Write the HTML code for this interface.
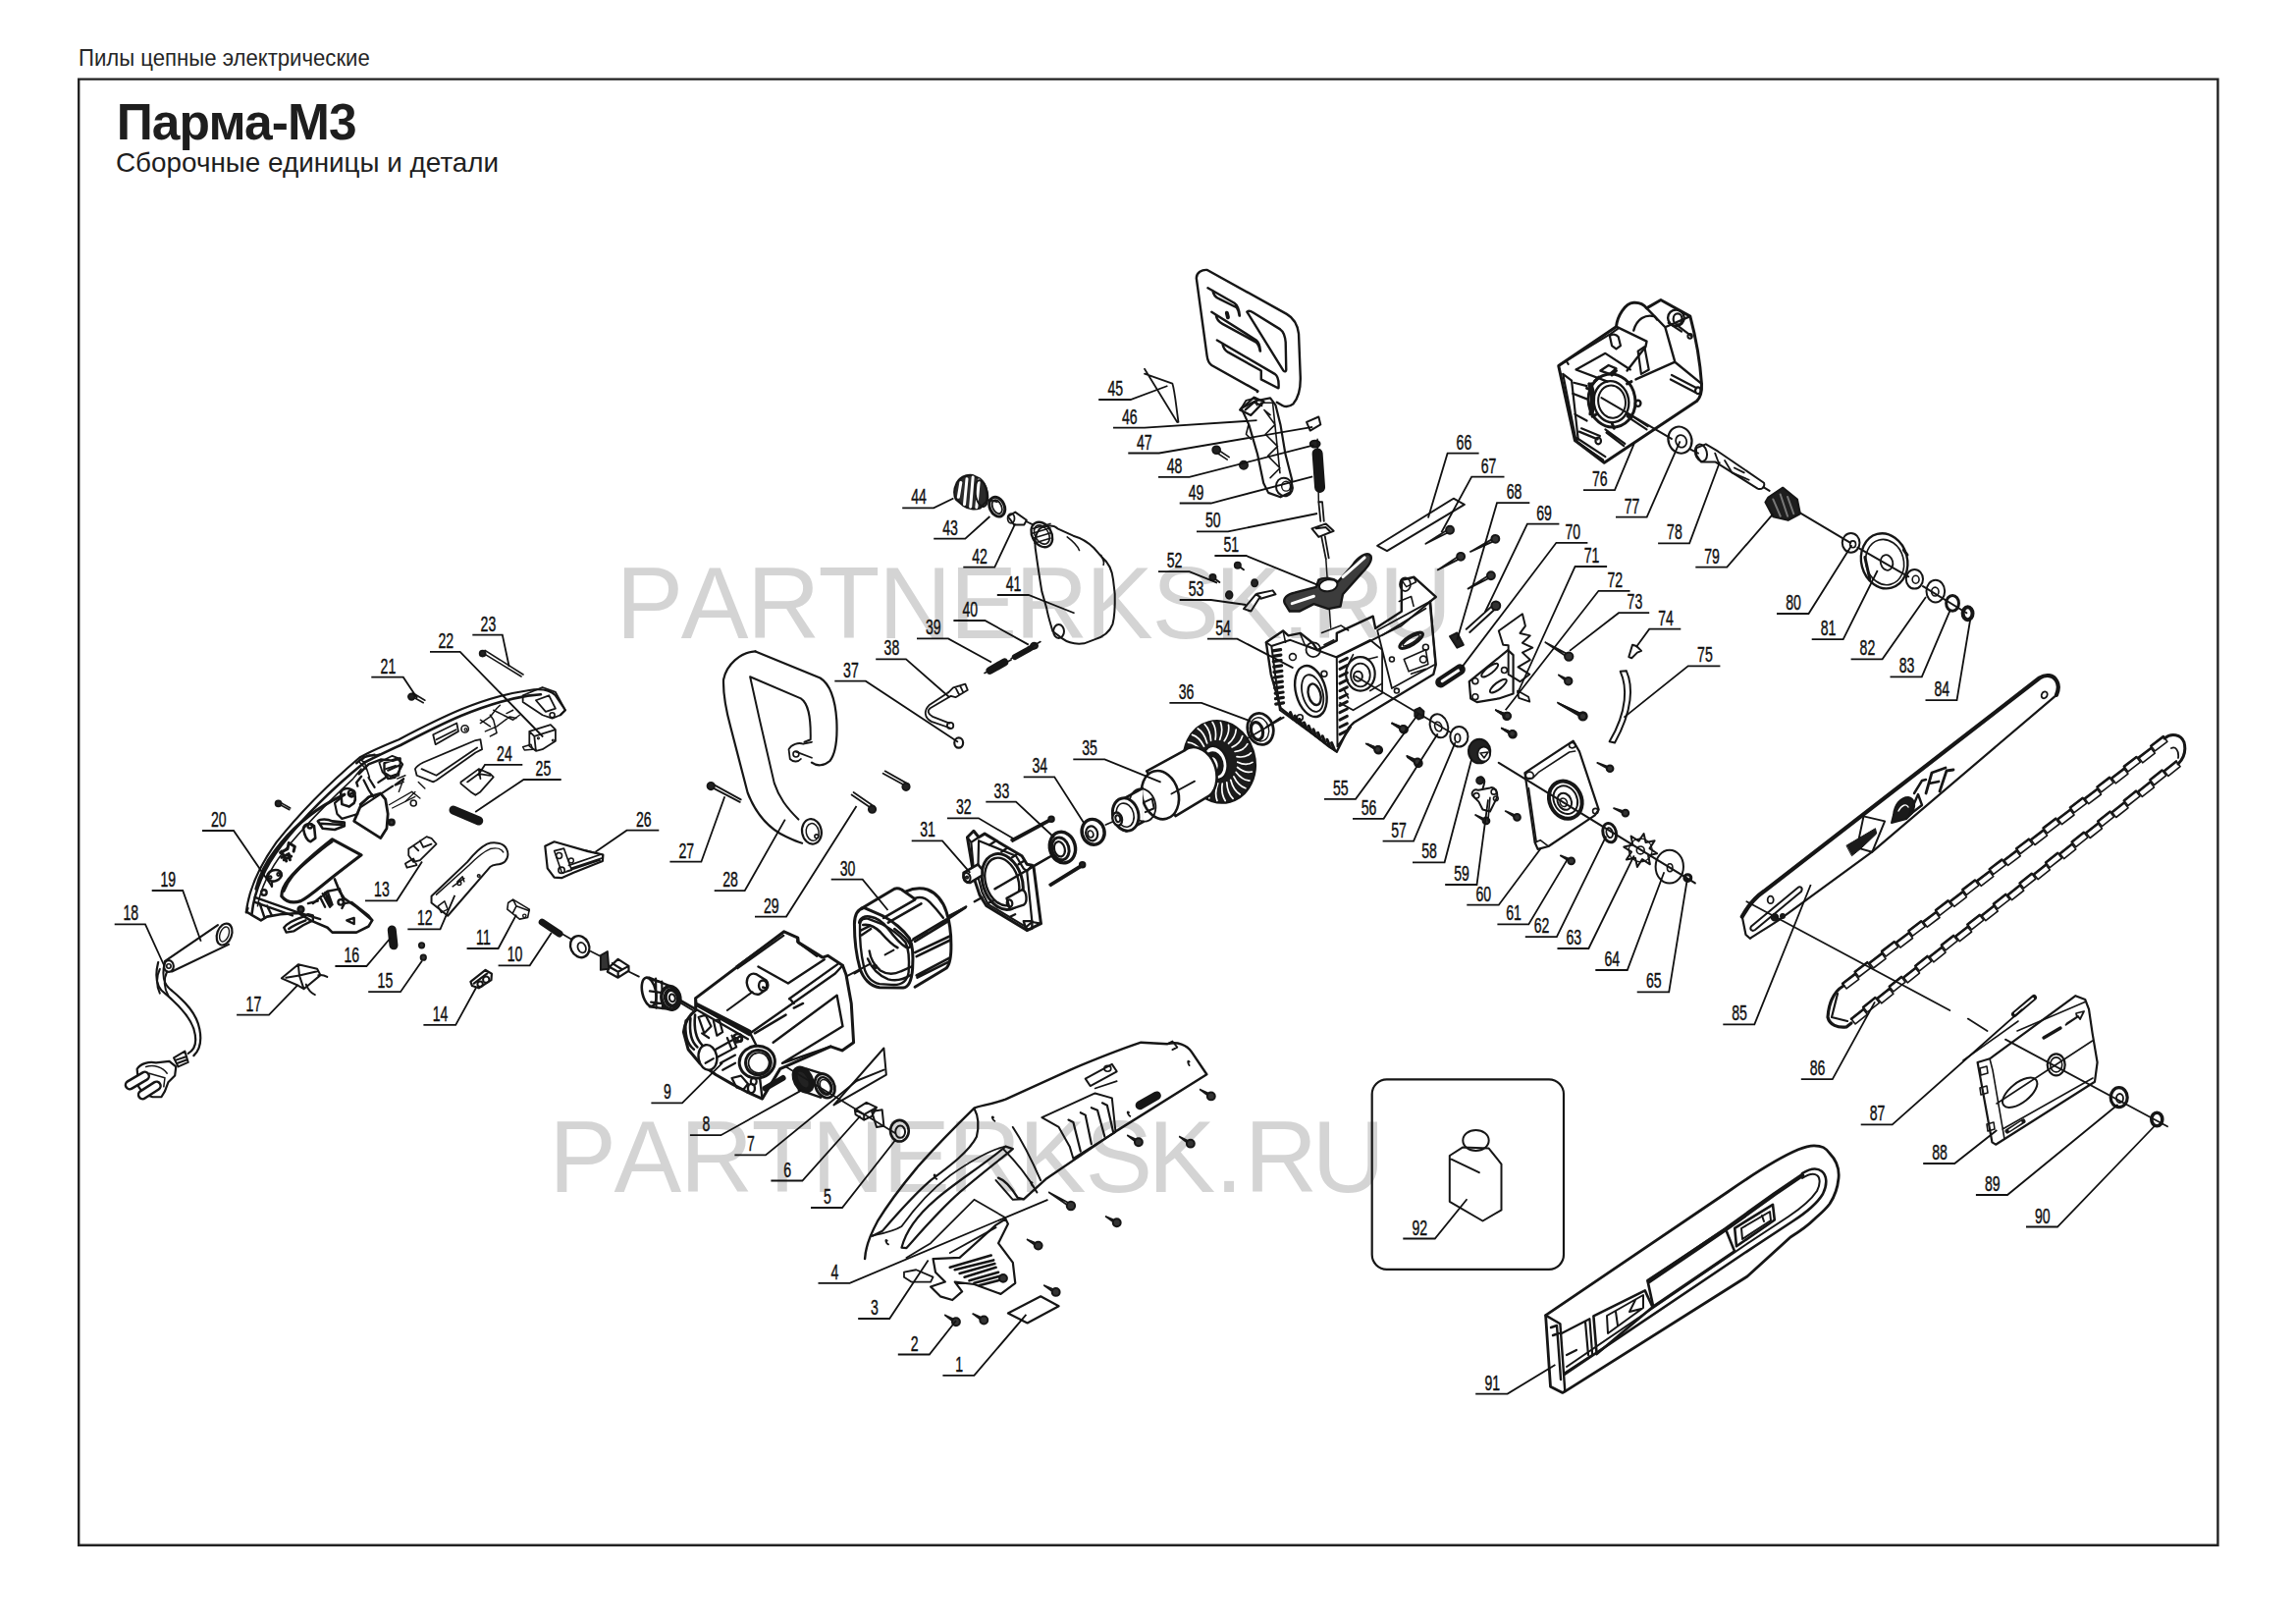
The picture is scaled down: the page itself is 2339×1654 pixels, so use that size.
<!DOCTYPE html>
<html><head><meta charset="utf-8"><style>
html,body{margin:0;padding:0;background:#fff;}
body{width:2339px;height:1654px;overflow:hidden;position:relative;font-family:"Liberation Sans",sans-serif;}
.hdr{position:absolute;left:79.5px;top:47.3px;font-size:24.5px;color:#262626;white-space:nowrap;line-height:1;transform:scaleX(0.904);transform-origin:0 0;}
.frame{position:absolute;left:79px;top:79px;width:2177.5px;height:1491.5px;border:2.4px solid #232323;}
.title{position:absolute;left:118.7px;top:99.2px;font-size:51.5px;font-weight:bold;color:#1e1e1e;white-space:nowrap;line-height:1;letter-spacing:-0.9px;}
.sub{position:absolute;left:117.9px;top:152px;font-size:27.3px;color:#1e1e1e;white-space:nowrap;line-height:1;transform:scaleX(1.02);transform-origin:0 0;}
svg{position:absolute;left:0;top:0;}
svg path,svg ellipse,svg circle,svg rect,svg line,svg polyline,svg polygon{vector-effect:non-scaling-stroke;}
</style></head><body>
<div class="hdr">Пилы цепные электрические</div>
<div class="title">Парма-М3</div>
<div class="sub">Сборочные единицы и детали</div>
<svg width="2339" height="1654" viewBox="0 0 2339 1654" xmlns="http://www.w3.org/2000/svg">
<g font-family="Liberation Sans" font-size="103" fill="#d4d4d4">
<text x="627.4 693.8 761 833.6 894.9 967.5 1034 1106 1173.6 1237.6 1306 1336 1404.8" y="649.5">PARTNERKSK.RU</text>
<text x="559.2 625.6 692.8 765.4 826.7 899.3 965.8 1037.8 1105.4 1169.4 1237.8 1267.8 1336.6" y="1213.5">PARTNERKSK.RU</text>
</g>
<g fill="none" stroke="#161616" stroke-width="1.8" stroke-linejoin="round" stroke-linecap="round">
<g transform="translate(240,690) scale(0.166279)"><path d="M65,1440 C80,1300 150,1150 250,1010 C400,820 560,660 760,490 C850,440 900,420 1000,380 C1250,250 1500,120 1800,78 C1880,65 1930,80 1960,110 L2020,200 L1990,230" stroke-width="2.2"/><path d="M100,1445 C115,1310 180,1160 280,1030 C420,850 580,690 790,520 C880,475 920,455 1010,415 C1250,290 1500,160 1790,112 L1870,104" stroke-width="2.6"/><path d="M135,1400 C150,1300 210,1170 300,1060 C430,900 560,770 720,620 L770,560 M760,500 L790,520 L820,610" stroke-width="1.6"/><path d="M1100,560 C1110,540 1130,530 1150,520 L1470,385 L1500,380 L1510,440 L1470,460 L1230,630 L1210,640 L1110,600 Z M1140,560 L1230,600 L1480,430" stroke-width="1.8"/><path d="M1210,350 L1355,280 L1365,330 L1225,410 Z M1230,380 L1350,320" stroke-width="1.8"/><ellipse cx="1405" cy="315" rx="22" ry="22" stroke-width="1.6"/><ellipse cx="1410" cy="318" rx="8" ry="8" stroke-width="1.2"/><path d="M1500,280 L1560,240 L1600,190 L1620,170 M1530,330 L1600,300 L1680,240 L1720,250 M1500,260 L1560,300 M1560,230 L1580,260 L1600,340 L1560,360 M1640,230 L1700,260 L1740,230 M1580,200 L1660,240 M1660,220 L1700,200" stroke-width="1.5"/><path d="M1760,110 L1880,60 L1960,90 L2020,200 L1990,230 L1940,250 L1880,230 L1760,150 Z M1840,140 L1920,110 L1960,190 L1900,210 Z" stroke-width="1.8"/><ellipse cx="1940" cy="230" rx="15" ry="15" stroke-width="1.6"/><path d="M880,520 L960,480 L1010,500 L1000,600 L940,620 L900,580 Z M920,560 L980,540" stroke-width="1.8"/><path d="M780,500 C800,480 820,470 840,480 L880,470 M760,520 L800,560" stroke-width="1.6"/><path d="M990,620 L1040,600 M980,660 L1030,640 M1030,620 L1000,700" stroke-width="1.4"/><path d="M1080,700 L1130,740 M1040,760 L1100,700 M1120,640 L1160,680" stroke-width="1.4"/><ellipse cx="1090" cy="770" rx="18" ry="18" stroke-width="1.6"/><path d="M940,780 L1080,700 M960,800 L1100,730" stroke-width="1.2"/><path d="M1070,110 L1150,155 M1085,95 L1160,140" stroke-width="1.6"/><ellipse cx="1078" cy="118" rx="20" ry="20" stroke-width="1.8" fill="#222"/><path d="M255,770 L330,810 M265,760 L335,800" stroke-width="1.6"/><ellipse cx="262" cy="772" rx="18" ry="18" stroke-width="1.8" fill="#222"/><path d="M1800,330 L1930,290 L1960,320 L1960,390 L1880,440 L1840,450 L1800,420 Z M1800,330 L1830,360 L1960,320 M1830,360 L1840,450" stroke-width="1.8"/><path d="M1760,425 L1810,410 L1820,440 L1770,445 Z" stroke-width="1.5"/><ellipse cx="1855" cy="372" rx="6" ry="6" stroke-width="1.2"/><ellipse cx="1945" cy="385" rx="6" ry="6" stroke-width="1.2"/><path d="M1380,640 L1490,560 L1560,590 L1580,610 L1500,700 L1470,720 L1440,700 L1380,650 Z M1420,640 L1490,590 L1560,600 M1490,560 L1500,620" stroke-width="1.8"/><path d="M1335,812 L1490,878" stroke-width="9"/><path d="M1060,1050 L1170,975 L1200,985 L1230,1020 L1200,1050 L1130,1120 L1090,1130 L1060,1090 Z M1090,1030 L1120,1060 M1130,1000 L1150,1040 L1200,1020 M1040,1140 L1090,1110 L1110,1150 L1050,1165 Z" stroke-width="1.8"/><path d="M1200,1340 L1420,1130 C1460,1080 1500,1040 1540,1020 C1580,1005 1640,1010 1660,1050 C1680,1090 1660,1130 1630,1140 C1600,1150 1580,1140 1560,1160 L1300,1460 L1200,1380 Z" stroke-width="2.0"/><path d="M1230,1330 L1430,1150 C1470,1110 1510,1070 1560,1050 C1600,1040 1630,1050 1640,1070 M1240,1400 L1280,1370 L1300,1420 L1260,1440 Z M1330,1280 L1400,1230 M1360,1250 L1390,1220 L1400,1250" stroke-width="1.5"/><ellipse cx="1490" cy="1215" rx="8" ry="8" stroke-width="1.5"/><ellipse cx="1370" cy="1260" rx="12" ry="12" stroke-width="1.5"/><path d="M1670,1380 L1700,1360 L1800,1420 L1790,1470 L1740,1480 L1665,1420 Z M1700,1360 L1720,1400 L1800,1430 M1720,1400 L1700,1440" stroke-width="1.6"/><ellipse cx="1770" cy="1460" rx="10" ry="10" stroke-width="1.4"/></g>
<g transform="translate(100,980) scale(0.226501)"><path d="M270,0 C255,60 258,110 300,140 C360,190 410,240 430,300 C445,350 440,390 405,410" stroke-width="2.2"/><path d="M300,0 C285,60 292,100 332,128 C392,178 442,230 456,300 C466,350 456,395 430,420" stroke-width="2.2"/><path d="M340,430 L390,400 L405,450 L360,470 Z M350,440 L395,425 M355,455 L400,438" stroke-width="2.0"/><path d="M175,480 C190,455 230,445 260,452 L320,445 L350,470 L345,510 L315,540 L300,580 L285,605 L245,606 L205,592 L182,560 Z" stroke-width="2.2"/><path d="M215,470 C250,460 290,470 310,500 M230,500 L300,520 L295,560" stroke-width="1.5"/><path d="M142,552 L210,512" stroke-width="11"/><path d="M200,596 L262,556" stroke-width="11"/><path d="M142,552 L210,512" stroke-width="6" stroke="#fff"/><path d="M200,596 L262,556" stroke-width="6" stroke="#fff"/><path d="M825,72 L900,10 L985,30 L1000,58 L925,120 L900,105 Z M900,10 L905,60 L925,120 M845,70 L905,60 L990,40" stroke-width="2.0"/><path d="M990,58 C1005,55 1020,60 1030,66 M935,100 C945,125 960,140 975,146" stroke-width="2.0"/><path d="M1675,88 L1742,35 L1770,52 L1768,80 L1712,116 L1682,106 Z M1690,95 L1750,50" stroke-width="2.2"/><ellipse cx="1745" cy="78" rx="14" ry="14" stroke-width="2.0"/><ellipse cx="1718" cy="98" rx="12" ry="12" stroke-width="2.0"/></g>
<g transform="translate(100,620) scale(0.246305)"><path d="M275,1458 L495,1308 M305,1500 L540,1388" stroke-width="2.2"/><ellipse cx="522" cy="1346" rx="30" ry="46" transform="rotate(20 522 1346)" stroke-width="2.2"/><ellipse cx="522" cy="1346" rx="18" ry="32" transform="rotate(20 522 1346)" stroke-width="1.4"/><ellipse cx="292" cy="1478" rx="20" ry="24" stroke-width="2.2"/><ellipse cx="292" cy="1478" rx="9" ry="9" stroke-width="1.6"/><path d="M255,1490 C240,1520 240,1560 255,1590 M285,1500 C270,1530 272,1570 290,1600" stroke-width="2.0"/><path d="M1215,1328 L1222,1392" stroke-width="9"/><ellipse cx="1338" cy="1392" rx="11" ry="11" stroke-width="1.8" fill="#333"/><ellipse cx="1345" cy="1442" rx="11" ry="11" stroke-width="1.8" fill="#333"/><path d="M1836,1296 L1908,1344" stroke-width="7"/><path d="M1590,182 L1750,280 M1600,172 L1758,272" stroke-width="1.6"/><ellipse cx="1590" cy="185" rx="12" ry="12" stroke-width="1.8" fill="#222"/></g>
<g transform="translate(540,640) scale(0.246305)"><path d="M62,900 L100,882 L240,922 L302,936 L300,962 L180,1010 L130,1032 L100,1030 L72,992 Z" stroke-width="2.2"/><path d="M100,920 L140,910 L172,1000 L132,1012 Z M160,980 L292,935 M170,992 L296,950 M150,1005 L290,958 M230,918 L300,936 L300,958" stroke-width="1.6"/><ellipse cx="120" cy="940" rx="12" ry="12" stroke-width="1.6"/><ellipse cx="130" cy="1000" rx="13" ry="13" stroke-width="1.6"/><ellipse cx="170" cy="960" rx="10" ry="10" stroke-width="1.4"/><path d="M742,652 L868,718 M752,642 L872,708" stroke-width="1.8"/><ellipse cx="748" cy="652" rx="15" ry="15" stroke-width="1.8" fill="#222"/><path d="M932,95 C870,98 812,150 800,212 C798,270 808,330 830,410 L900,680 C935,770 990,830 1060,862 C1090,876 1110,884 1125,888" stroke-width="2.2"/><path d="M932,95 L1200,205 C1240,230 1262,290 1268,380 C1272,460 1262,520 1240,548 C1215,570 1185,570 1165,555" stroke-width="2.2"/><path d="M910,200 L1120,290 C1150,310 1162,360 1160,460 L1135,470 M910,200 L950,380 L1010,640 C1030,700 1060,740 1110,790" stroke-width="2.0"/><ellipse cx="1165" cy="840" rx="40" ry="52" transform="rotate(-10 1165 840)" stroke-width="2.2"/><ellipse cx="1168" cy="842" rx="26" ry="36" transform="rotate(-10 1168 842)" stroke-width="1.5"/><ellipse cx="1185" cy="860" rx="8" ry="8" stroke-width="1.6"/><path d="M1070,500 C1080,480 1110,470 1130,478 L1165,470 M1070,500 L1075,540 C1090,555 1110,552 1120,540 M1100,510 L1165,535" stroke-width="1.8"/><ellipse cx="1100" cy="520" rx="12" ry="12" stroke-width="1.6"/><path d="M1330,688 L1418,748 M1338,678 L1425,738" stroke-width="1.8"/><ellipse cx="1415" cy="748" rx="15" ry="15" stroke-width="1.8" fill="#222"/><path d="M1460,600 L1560,655 M1468,590 L1566,645" stroke-width="1.8"/><ellipse cx="1555" cy="655" rx="15" ry="15" stroke-width="1.8" fill="#222"/><ellipse cx="1773" cy="473" rx="18" ry="21" stroke-width="2.2"/><path d="M1735,392 L1665,365 C1645,355 1642,340 1655,330 L1740,280 M1738,412 L1660,385 C1630,370 1628,340 1650,318 L1730,265" stroke-width="1.8"/><ellipse cx="1738" cy="402" rx="13" ry="13" stroke-width="1.8"/><path d="M1730,265 L1750,245 L1800,230 L1810,255 L1760,285 L1740,280 M1760,245 L1775,275 M1780,240 L1792,265" stroke-width="1.8"/><ellipse cx="206" cy="1316" rx="38" ry="46" transform="rotate(-25 206 1316)" stroke-width="2.4"/><ellipse cx="214" cy="1320" rx="16" ry="22" transform="rotate(-25 214 1320)" stroke-width="1.8"/><path d="M292,1352 L320,1336 L326,1408 L292,1412 Z" stroke-width="2.0" fill="#333"/><path d="M328,1400 L364,1368 L408,1396 L408,1416 L364,1444 L320,1420 Z M328,1400 L364,1420 L408,1396 M364,1420 L364,1444 M340,1385 L380,1410" stroke-width="2.2"/><path d="M492,1444 L580,1480 L580,1576 L492,1563 Z" stroke-width="0.1" fill="#fff"/><path d="M492,1444 L582,1480 M494,1564 L584,1576" stroke-width="2.4"/><ellipse cx="492" cy="1503" rx="28" ry="60" transform="rotate(-12 492 1503)" stroke-width="2.6" fill="#fff"/><path d="M500,1452 L540,1462 M520,1448 L522,1570 M545,1460 L548,1572 M495,1500 L570,1510 M500,1545 L575,1555" stroke-width="2.2"/><ellipse cx="582" cy="1528" rx="38" ry="48" transform="rotate(-12 582 1528)" stroke-width="3.6" fill="#fff"/><ellipse cx="586" cy="1528" rx="26" ry="34" transform="rotate(-12 586 1528)" stroke-width="4.0"/><ellipse cx="588" cy="1528" rx="12" ry="16" transform="rotate(-12 588 1528)" stroke-width="2.0"/><path d="M40,1212 L100,1245 M130,1262 L170,1285 M250,1335 L290,1355 M410,1420 L450,1440 M620,1540 L700,1585" stroke-width="1.8"/></g>
<g transform="translate(560,900) scale(0.246305)"><ellipse cx="1048" cy="810" rx="30" ry="48" transform="rotate(-28 1048 810)" stroke-width="6.0" fill="#222"/><path d="M1060,765 L1135,788 M1030,852 L1120,884" stroke-width="2.4"/><ellipse cx="1138" cy="836" rx="38" ry="52" transform="rotate(-28 1138 836)" stroke-width="2.8" fill="#fff"/><ellipse cx="1138" cy="836" rx="26" ry="38" transform="rotate(-28 1138 836)" stroke-width="2.4"/><ellipse cx="1140" cy="838" rx="20" ry="30" transform="rotate(-28 1140 838)" stroke-width="1.6"/><path d="M1382,680 L1392,790 L1175,915 Z M1270,815 L1382,770" stroke-width="2.0"/><path d="M1262,935 L1310,905 L1352,925 L1332,962 L1300,977 L1265,955 Z M1262,935 L1300,955 L1352,925 M1300,955 L1300,977" stroke-width="2.0"/><path d="M1332,942 L1375,935 L1382,1002 L1352,1007 Z" stroke-width="2.0"/><ellipse cx="1447" cy="1022" rx="38" ry="44" stroke-width="2.6"/><ellipse cx="1450" cy="1026" rx="20" ry="25" stroke-width="2.0"/><path d="M540,492 L1430,1032" stroke-width="1.8"/><path d="M1260,372 L1320,338 M1400,292 L1560,200 M1620,165 L1720,100" stroke-width="1.8"/></g>
<g transform="translate(820,1010) scale(0.246305)"><path d="M248,1105 C250,1060 262,1020 300,950 C360,850 420,780 470,720 C560,620 620,560 700,482 C720,470 760,470 830,445 L1100,322 C1200,280 1300,240 1390,210 L1500,216 C1540,205 1580,220 1600,250 L1662,342 L1290,575 L1000,772 L905,858 L880,852 C860,820 830,780 800,770" stroke-width="2.4"/><path d="M700,482 C720,520 720,560 710,600 C680,660 600,720 520,780 C440,850 380,920 320,990 L280,1010" stroke-width="2.2"/><path d="M275,1010 C320,1000 370,990 400,970 C450,900 520,820 600,760 C700,690 780,650 830,640" stroke-width="1.8"/><path d="M400,1058 C420,980 470,920 540,860 C620,790 720,730 830,640 L860,650 C800,700 720,760 640,830 C560,900 500,970 420,1060 Z" stroke-width="2.2"/><path d="M820,650 C870,700 920,760 960,830 M860,560 C900,620 940,700 975,780" stroke-width="2.0"/><path d="M790,780 L860,860 L905,858" stroke-width="2.0"/><path d="M980,520 L1200,420 L1270,440 L1285,580 L1110,690 L1095,640 L1050,560 Z" stroke-width="2.0"/><path d="M1090,530 L1110,540 L1140,660 M1140,500 L1160,510 L1185,630 M1185,480 L1210,490 L1240,600 M1230,460 L1250,470 L1275,580" stroke-width="2.2"/><path d="M1160,360 L1270,300 L1290,330 L1180,390 Z" stroke-width="2.0"/><ellipse cx="1252" cy="318" rx="14" ry="12" stroke-width="1.6"/><path d="M1290,370 C1260,380 1230,390 1200,400" stroke-width="1.6"/><path d="M1500,215 L1520,205 L1540,230 L1520,240" stroke-width="1.8"/><path d="M1590,290 C1580,280 1585,300 1590,305 M1340,500 C1330,490 1335,510 1345,515 M780,520 C770,510 775,530 785,535 M540,760 C530,750 535,770 545,775 M940,790 C930,780 935,800 945,805 M340,1030 C330,1020 335,1040 345,1045" stroke-width="1.8"/><path d="M1385,470 L1455,430" stroke-width="9"/><path d="M530,1105 L640,1100 L790,965 L830,940 L840,960 L800,1040 L860,1120 L870,1205 L810,1250 L700,1210 L620,1200 L650,1240 L610,1275 L560,1260 L520,1220 L580,1200 L540,1160 Z" stroke-width="2.2"/><path d="M700,860 L830,935 M700,860 L520,1040 L420,1100 M600,1080 L790,975" stroke-width="1.8"/><path d="M600,1140 L770,1090 M620,1150 L780,1110 M640,1165 L785,1125 M660,1180 L790,1140 M680,1195 L800,1160 M700,1205 L810,1175 M720,1215 L815,1190" stroke-width="2.6"/><path d="M410,1160 L460,1150 L530,1180 L520,1200 L440,1200 L410,1180 Z" stroke-width="1.8"/><ellipse cx="820" cy="1185" rx="16" ry="16" stroke-width="2.0" fill="#333"/><path d="M840,1330 L975,1260 L1050,1300 L920,1370 Z" stroke-width="2.2"/><path d="M580,1338 L628,1360 M580,1338 L622,1370" stroke-width="1.8"/><ellipse cx="625" cy="1365" rx="16" ry="16" stroke-width="2.0" fill="#333"/><path d="M695,1332 L743,1353 M695,1332 L737,1363" stroke-width="1.8"/><ellipse cx="740" cy="1358" rx="16" ry="16" stroke-width="2.0" fill="#333"/><path d="M990,1215 L1041,1237 M990,1215 L1035,1247" stroke-width="1.8"/><ellipse cx="1038" cy="1242" rx="16" ry="16" stroke-width="2.0" fill="#333"/><path d="M920,1025 L968,1045 M920,1025 L962,1055" stroke-width="1.8"/><ellipse cx="965" cy="1050" rx="16" ry="16" stroke-width="2.0" fill="#333"/><path d="M1245,930 L1293,950 M1245,930 L1287,960" stroke-width="1.8"/><ellipse cx="1290" cy="955" rx="16" ry="16" stroke-width="2.0" fill="#333"/><path d="M1010,830 L1103,880 M1010,830 L1097,890" stroke-width="1.8"/><ellipse cx="1100" cy="885" rx="17" ry="17" stroke-width="2.0" fill="#333"/><path d="M1335,595 L1383,617 M1335,595 L1377,627" stroke-width="1.8"/><ellipse cx="1380" cy="622" rx="16" ry="16" stroke-width="2.0" fill="#333"/><path d="M1550,600 L1598,623 M1550,600 L1592,633" stroke-width="1.8"/><ellipse cx="1595" cy="628" rx="16" ry="16" stroke-width="2.0" fill="#333"/><path d="M1635,405 L1683,427 M1635,405 L1677,437" stroke-width="1.8"/><ellipse cx="1680" cy="432" rx="16" ry="16" stroke-width="2.0" fill="#333"/></g>
<g transform="translate(900,260) scale(0.246305)"><path d="M300,950 C310,920 340,905 370,910 L400,925 C425,945 435,990 425,1020 L400,1045 C380,1052 350,1050 330,1035 L300,1010 C290,990 292,965 300,950 Z" stroke-width="2.2" fill="#2a2a2a"/><path d="M320,940 L310,1000 M345,925 L335,1030 M370,918 L360,1040 M395,930 L385,1042" stroke-width="3" stroke="#fff"/><ellipse cx="405" cy="985" rx="25" ry="55" transform="rotate(-10 405 985)" stroke-width="2.0"/><path d="M430,1010 L470,1020" stroke-width="1.8"/><ellipse cx="470" cy="1040" rx="30" ry="42" transform="rotate(-25 470 1040)" stroke-width="3.0"/><ellipse cx="470" cy="1040" rx="18" ry="30" transform="rotate(-25 470 1040)" stroke-width="1.8"/><path d="M515,1080 L545,1062 L592,1095 L582,1114 L540,1114 Z" stroke-width="2.0"/><ellipse cx="528" cy="1088" rx="14" ry="20" stroke-width="1.8"/><path d="M590,1100 L620,1115" stroke-width="1.8"/><path d="M640,1140 C650,1120 700,1110 720,1130 L785,1160 C820,1170 850,1190 870,1210 L905,1250 C930,1270 945,1300 950,1340 L957,1400 C958,1450 955,1500 948,1525 C935,1560 905,1580 870,1590 L830,1605 C790,1610 760,1600 740,1585 L700,1555 C690,1520 680,1490 675,1460 L655,1390 C645,1330 635,1260 628,1210 C625,1180 630,1155 640,1140 Z" stroke-width="2.0"/><ellipse cx="655" cy="1155" rx="40" ry="55" transform="rotate(-30 655 1155)" stroke-width="2.4"/><ellipse cx="655" cy="1155" rx="28" ry="42" transform="rotate(-30 655 1155)" stroke-width="1.6"/><path d="M620,1130 L690,1110 M615,1150 L690,1128 M618,1170 L692,1148 M625,1190 L690,1170" stroke-width="1.6"/><ellipse cx="725" cy="1555" rx="22" ry="28" stroke-width="2.0"/><path d="M760,1165 C780,1180 800,1195 810,1220 M900,1240 C910,1260 915,1270 910,1280" stroke-width="1.6"/><path d="M1080,470 L1215,690 M1080,490 L1195,530 C1205,560 1210,620 1220,690" stroke-width="1.8"/><path d="M1480,632 L1540,602 L1600,590 L1622,620 L1642,700 L1662,820 L1690,930 L1682,980 L1642,1000 L1592,982 L1572,942 L1547,822 L1512,702 Z" stroke-width="2.2"/><path d="M1560,610 L1610,610 L1640,900 M1575,640 L1620,700 L1580,740 L1630,790 L1590,830 L1640,880 L1600,920 M1575,640 L1600,660 M1510,700 L1500,740 L1520,760" stroke-width="1.6"/><ellipse cx="1658" cy="958" rx="34" ry="38" transform="rotate(-20 1658 958)" stroke-width="2.0"/><ellipse cx="1665" cy="955" rx="18" ry="20" stroke-width="1.4"/><path d="M1480,632 L1500,600 L1540,590 L1545,620" stroke-width="1.8"/><path d="M1750,690 L1800,668 L1808,700 L1765,725 Z" stroke-width="2.0"/><path d="M1430,835 L1380,802 M1422,845 L1372,812" stroke-width="1.6"/><ellipse cx="1377" cy="805" rx="16" ry="16" stroke-width="1.8" fill="#222"/><ellipse cx="1490" cy="868" rx="17" ry="17" stroke-width="1.6" fill="#222"/><path d="M1795,820 L1805,960" stroke-width="11"/><ellipse cx="1785" cy="780" rx="20" ry="14" stroke-width="2.0" fill="#222"/><path d="M1800,1020 L1808,1100 M1815,1020 L1822,1100 M1800,1020 L1815,1020" stroke-width="1.8"/><path d="M1772,1130 L1830,1110 L1862,1140 L1800,1165 Z M1790,1130 L1830,1125 L1845,1140" stroke-width="2.0"/><path d="M1812,1165 L1830,1255 M1826,1162 L1842,1252" stroke-width="1.8"/><path d="M1795,760 L1800,1020 M1830,1255 L1850,1540" stroke-width="1.5"/><path d="M1660,1440 C1650,1420 1670,1400 1700,1395 L1790,1372 L1800,1342 C1820,1330 1860,1335 1880,1350 L1940,1282 C1960,1250 2000,1222 2015,1242 C2025,1262 2000,1292 1980,1312 L1900,1402 L1890,1452 L1840,1462 L1780,1442 L1720,1472 L1680,1472 Z" stroke-width="2.4" fill="#3c3c3c"/><ellipse cx="1840" cy="1365" rx="38" ry="24" transform="rotate(-10 1840 1365)" stroke-width="2.0" fill="#fff"/><path d="M1690,1440 L1780,1410 M1900,1330 L1990,1250" stroke-width="3" stroke="#fff"/><path d="M1390,1352 L1360,1330" stroke-width="2"/><ellipse cx="1362" cy="1332" rx="13" ry="13" stroke-width="1.6" fill="#222"/><path d="M1490,1300 L1462,1280" stroke-width="2"/><ellipse cx="1465" cy="1282" rx="13" ry="13" stroke-width="1.6" fill="#222"/><ellipse cx="1430" cy="1405" rx="14" ry="16" stroke-width="1.6" fill="#222"/><ellipse cx="1535" cy="1355" rx="13" ry="15" stroke-width="1.6" fill="#222"/><path d="M1490,1462 L1540,1402 L1558,1412 L1520,1472 Z M1545,1400 L1610,1386 L1622,1402 L1560,1420 Z" stroke-width="2.0"/></g>
<g transform="translate(540,640) scale(0.246305)"><path d="M1902,174 L1962,140" stroke-width="8"/><path d="M1880,185 L1990,130" stroke-width="1.6"/><path d="M2005,118 L2060,88 L2080,76" stroke-width="6"/><ellipse cx="2085" cy="72" rx="14" ry="12" stroke-width="2" fill="#222"/><path d="M1990,125 L2111,55" stroke-width="1.6"/></g>
<g transform="translate(1280,440) scale(0.246305)"><path d="M40,870 L110,822 L132,842 L182,832 L232,872 L252,902 L332,862 L332,832 L482,762 L492,812 L600,742 L600,612 L652,600 L742,682 L717,702 L742,962 L732,1002 L402,1202 L382,1222 L332,1322 L302,1302 L100,1142 L60,1002 Z" stroke-width="2.4"/><path d="M40,870 L62,885 L97,1150 L332,1322 M62,885 L140,860 L332,932 M332,932 L335,1300 M332,932 L600,800 L720,700 M335,1300 L390,1220" stroke-width="2.0"/><path d="M68,905 L100,900" stroke-width="3.2"/><path d="M69,927 L101,922" stroke-width="3.2"/><path d="M70,949 L102,944" stroke-width="3.2"/><path d="M72,971 L104,966" stroke-width="3.2"/><path d="M73,993 L105,988" stroke-width="3.2"/><path d="M74,1015 L106,1010" stroke-width="3.2"/><path d="M75,1037 L107,1032" stroke-width="3.2"/><path d="M76,1059 L108,1054" stroke-width="3.2"/><path d="M78,1081 L110,1076" stroke-width="3.2"/><path d="M79,1103 L111,1098" stroke-width="3.2"/><path d="M80,1125 L112,1120" stroke-width="3.2"/><path d="M140,1160 L150,1185" stroke-width="3.2"/><path d="M159,1174 L169,1199" stroke-width="3.2"/><path d="M178,1188 L188,1213" stroke-width="3.2"/><path d="M197,1202 L207,1227" stroke-width="3.2"/><path d="M216,1216 L226,1241" stroke-width="3.2"/><path d="M235,1230 L245,1255" stroke-width="3.2"/><path d="M254,1244 L264,1269" stroke-width="3.2"/><path d="M273,1258 L283,1283" stroke-width="3.2"/><path d="M292,1272 L302,1297" stroke-width="3.2"/><path d="M311,1286 L321,1311" stroke-width="3.2"/><path d="M345,950 L375,935" stroke-width="3.0"/><path d="M345,980 L375,965" stroke-width="3.0"/><path d="M345,1010 L375,995" stroke-width="3.0"/><path d="M345,1040 L375,1025" stroke-width="3.0"/><path d="M345,1070 L375,1055" stroke-width="3.0"/><path d="M345,1100 L375,1085" stroke-width="3.0"/><path d="M345,1130 L375,1115" stroke-width="3.0"/><path d="M345,1160 L375,1145" stroke-width="3.0"/><path d="M345,1190 L375,1175" stroke-width="3.0"/><path d="M345,1220 L375,1205" stroke-width="3.0"/><path d="M345,1250 L375,1235" stroke-width="3.0"/><ellipse cx="225" cy="1072" rx="62" ry="108" transform="rotate(-15 225 1072)" stroke-width="2.4"/><ellipse cx="232" cy="1080" rx="42" ry="78" transform="rotate(-15 232 1080)" stroke-width="1.8"/><ellipse cx="240" cy="1085" rx="25" ry="45" transform="rotate(-15 240 1085)" stroke-width="2.4"/><ellipse cx="150" cy="930" rx="14" ry="14" stroke-width="1.6"/><ellipse cx="280" cy="1000" rx="12" ry="12" stroke-width="1.6"/><ellipse cx="180" cy="1180" rx="12" ry="12" stroke-width="1.6"/><path d="M330,930 L470,860 L520,900 L520,1080 L400,1150 L345,1120" stroke-width="1.8"/><ellipse cx="430" cy="1000" rx="60" ry="70" stroke-width="2.2"/><ellipse cx="430" cy="1005" rx="40" ry="48" stroke-width="1.8"/><ellipse cx="420" cy="1010" rx="18" ry="20" stroke-width="2.0"/><path d="M380,960 L400,920 M460,940 L500,930 M470,1070 L520,1040 M360,1060 L380,1100" stroke-width="1.6"/><path d="M500,820 L720,700 L740,960 L560,1060 Z M520,840 L700,730" stroke-width="1.8"/><ellipse cx="640" cy="862" rx="55" ry="18" transform="rotate(-32 640 862)" stroke-width="3.2"/><ellipse cx="640" cy="862" rx="40" ry="10" transform="rotate(-32 640 862)" stroke-width="1.4"/><ellipse cx="560" cy="940" rx="10" ry="10" stroke-width="1.6"/><ellipse cx="580" cy="1070" rx="10" ry="10" stroke-width="1.6"/><ellipse cx="700" cy="890" rx="12" ry="12" stroke-width="1.6"/><ellipse cx="690" cy="940" rx="14" ry="14" stroke-width="1.6"/><path d="M610,940 L700,900 L710,960 L630,990 Z M640,1000 L700,980" stroke-width="1.6"/><path d="M600,612 L620,640 L660,620 L650,600 M590,700 L640,680 L650,720 M110,822 L120,870 M180,832 L200,880 L250,900" stroke-width="1.6"/><ellipse cx="615" cy="630" rx="22" ry="28" stroke-width="1.8"/><ellipse cx="235" cy="900" rx="30" ry="30" stroke-width="1.8"/><path d="M270,830 L350,800 L380,820 M280,880 L320,860" stroke-width="1.6"/><path d="M500,470 L815,275 L860,300 L540,492 Z" stroke-width="2.0"/><path d="M700,462 L797,400 M700,462 L803,410" stroke-width="1.8"/><ellipse cx="800" cy="405" rx="16" ry="16" stroke-width="2.0" fill="#333"/><path d="M885,495 L985,437 M885,495 L991,447" stroke-width="1.8"/><ellipse cx="988" cy="442" rx="16" ry="16" stroke-width="2.0" fill="#333"/><path d="M750,570 L842,510 M750,570 L848,520" stroke-width="1.8"/><ellipse cx="845" cy="515" rx="16" ry="16" stroke-width="2.0" fill="#333"/><path d="M875,648 L967,589 M875,648 L973,599" stroke-width="1.8"/><ellipse cx="970" cy="594" rx="16" ry="16" stroke-width="2.0" fill="#333"/><path d="M868,815 L985,710 M882,828 L998,722" stroke-width="2.0"/><ellipse cx="990" cy="718" rx="18" ry="18" stroke-width="2.0" fill="#333"/><path d="M800,845 L830,830 L856,880 L830,892 Z" stroke-width="2.0" fill="#222"/><path d="M762,1035 L842,982" stroke-width="11"/><path d="M768,1030 L836,986" stroke-width="3" stroke="#fff"/><path d="M880,1032 L1040,902 L1062,922 L1062,1082 L1002,1102 L912,1117 L886,1102 Z" stroke-width="2.2"/><path d="M1002,822 L1100,752 L1112,802 L1090,832 L1132,842 L1100,872 L1142,892 L1100,912 L1132,942 L1082,972 L1130,1002 L1090,1032 L1042,1002 L1042,882 L1020,880 Z" stroke-width="2.0"/><ellipse cx="965" cy="985" rx="42" ry="14" transform="rotate(-38 965 985)" stroke-width="2.0"/><ellipse cx="1000" cy="1050" rx="42" ry="14" transform="rotate(-38 1000 1050)" stroke-width="2.0"/><ellipse cx="905" cy="1030" rx="12" ry="12" stroke-width="1.6"/><ellipse cx="1025" cy="985" rx="12" ry="12" stroke-width="1.6"/><ellipse cx="905" cy="1095" rx="12" ry="12" stroke-width="1.6"/><path d="M1080,1070 L1125,1095 L1130,1115 L1085,1100 Z" stroke-width="1.8"/><path d="M1195,870 L1295,923 M1195,870 L1289,933" stroke-width="1.8"/><ellipse cx="1292" cy="928" rx="17" ry="17" stroke-width="2.0" fill="#333"/><path d="M1250,1005 L1293,1025 M1250,1005 L1287,1035" stroke-width="1.8"/><ellipse cx="1290" cy="1030" rx="15" ry="15" stroke-width="2.0" fill="#333"/><path d="M990,1150 L1038,1170 M990,1150 L1032,1180" stroke-width="1.8"/><ellipse cx="1035" cy="1175" rx="15" ry="15" stroke-width="2.0" fill="#333"/><path d="M1015,1225 L1063,1245 M1015,1225 L1057,1255" stroke-width="1.8"/><ellipse cx="1060" cy="1250" rx="15" ry="15" stroke-width="2.0" fill="#333"/><path d="M1250,1122 L1353,1170 M1250,1122 L1347,1180" stroke-width="1.8"/><ellipse cx="1350" cy="1175" rx="17" ry="17" stroke-width="2.0" fill="#333"/><path d="M1540,930 L1555,880 L1572,885 L1592,905 L1575,912 L1552,935 Z" stroke-width="2.0"/><path d="M1505,990 C1532,1050 1537,1150 1460,1280 M1530,988 C1558,1050 1557,1150 1482,1285 M1505,990 L1530,988 M1460,1280 L1482,1285" stroke-width="2.0"/><path d="M655,1150 L675,1140 L692,1155 L690,1180 L670,1188 L655,1175 Z" stroke-width="2.0" fill="#222"/><ellipse cx="755" cy="1215" rx="36" ry="50" transform="rotate(-20 755 1215)" stroke-width="2.0"/><ellipse cx="752" cy="1218" rx="14" ry="20" transform="rotate(-20 752 1218)" stroke-width="1.6"/><path d="M560,1205 L613,1225 M560,1205 L607,1235" stroke-width="1.8"/><ellipse cx="610" cy="1230" rx="15" ry="15" stroke-width="2.0" fill="#333"/><path d="M460,1290 L508,1310 M460,1290 L502,1320" stroke-width="1.8"/><ellipse cx="505" cy="1315" rx="15" ry="15" stroke-width="2.0" fill="#333"/><path d="M625,1345 L673,1365 M625,1345 L667,1375" stroke-width="1.8"/><ellipse cx="670" cy="1370" rx="15" ry="15" stroke-width="2.0" fill="#333"/><path d="M410,1010 L800,1240 M100,1180 L40,1220" stroke-width="1.8"/></g>
<g transform="translate(1380,700) scale(0.197044)"><ellipse cx="540" cy="255" rx="46" ry="52" stroke-width="2.0"/><ellipse cx="532" cy="262" rx="14" ry="22" stroke-width="1.8"/><ellipse cx="645" cy="330" rx="56" ry="62" stroke-width="2.2" fill="#222"/><ellipse cx="668" cy="345" rx="32" ry="38" stroke-width="1.8" fill="#fff"/><path d="M650,340 L690,335 L670,365 Z" stroke-width="1.6"/><path d="M640,470 C655,455 680,470 668,505 L662,525" stroke-width="2.0"/><ellipse cx="648" cy="482" rx="18" ry="18" stroke-width="1.8" fill="#222"/><path d="M610,560 C600,540 620,522 640,532 L700,520 C722,510 742,540 736,570 L720,602 L700,642 L662,632 L642,592 Z" stroke-width="2.0"/><ellipse cx="630" cy="560" rx="14" ry="14" stroke-width="1.6"/><ellipse cx="720" cy="540" rx="14" ry="14" stroke-width="1.6"/><ellipse cx="730" cy="575" rx="12" ry="12" stroke-width="1.6"/><path d="M880,442 L1130,277 L1162,332 L1262,632 L1242,662 L1002,822 L947,837 L932,802 Z" stroke-width="2.2"/><path d="M880,470 L920,470 L950,440 L1110,335 L1140,330 M932,802 L960,790 L1000,820 M900,520 L940,800" stroke-width="1.6"/><ellipse cx="905" cy="455" rx="20" ry="18" stroke-width="1.6"/><ellipse cx="1125" cy="300" rx="16" ry="14" stroke-width="1.6"/><ellipse cx="1245" cy="640" rx="14" ry="14" stroke-width="1.6"/><ellipse cx="1090" cy="582" rx="82" ry="100" transform="rotate(-25 1090 582)" stroke-width="4.0"/><ellipse cx="1090" cy="582" rx="60" ry="75" transform="rotate(-25 1090 582)" stroke-width="2.0"/><ellipse cx="1085" cy="590" rx="35" ry="45" transform="rotate(-25 1085 590)" stroke-width="2.0"/><ellipse cx="1080" cy="595" rx="18" ry="22" transform="rotate(-25 1080 595)" stroke-width="1.6"/><ellipse cx="1318" cy="752" rx="34" ry="50" transform="rotate(-15 1318 752)" stroke-width="3.0"/><ellipse cx="1318" cy="752" rx="16" ry="26" transform="rotate(-15 1318 752)" stroke-width="1.8"/><path d="M1564,859 L1518,869 L1527,915 L1487,889 L1461,928 L1451,882 L1405,891 L1431,851 L1392,825 L1438,815 L1429,769 L1469,795 L1495,756 L1505,802 L1551,793 L1525,833 Z" stroke-width="2.0"/><ellipse cx="1478" cy="842" rx="20" ry="20" stroke-width="1.6"/><ellipse cx="1478" cy="842" rx="60" ry="60" stroke-width="1.2"/><ellipse cx="1628" cy="927" rx="72" ry="86" stroke-width="2.0"/><ellipse cx="1630" cy="932" rx="14" ry="20" stroke-width="1.6"/><ellipse cx="1722" cy="985" rx="17" ry="17" stroke-width="3.2"/><path d="M745,390 L1760,1012" stroke-width="2.2"/><path d="M1255,390 L1323,415 M1255,390 L1317,425" stroke-width="1.8"/><ellipse cx="1320" cy="420" rx="17" ry="17" stroke-width="2.0" fill="#333"/><path d="M1340,625 L1402,644 M1340,625 L1398,656" stroke-width="1.8"/><ellipse cx="1400" cy="650" rx="17" ry="17" stroke-width="2.0" fill="#333"/><path d="M780,640 L843,667 M780,640 L837,677" stroke-width="1.8"/><ellipse cx="840" cy="672" rx="17" ry="17" stroke-width="2.0" fill="#333"/><path d="M625,660 L683,685 M625,660 L677,695" stroke-width="1.8"/><ellipse cx="680" cy="690" rx="17" ry="17" stroke-width="2.0" fill="#333"/><path d="M1065,870 L1123,893 M1065,870 L1117,903" stroke-width="1.8"/><ellipse cx="1120" cy="898" rx="17" ry="17" stroke-width="2.0" fill="#333"/><path d="M60,292 L123,317 M60,292 L117,327" stroke-width="1.8"/><ellipse cx="120" cy="322" rx="17" ry="17" stroke-width="2.0" fill="#333"/><path d="M195,185 L253,210 M195,185 L247,220" stroke-width="1.8"/><ellipse cx="250" cy="215" rx="17" ry="17" stroke-width="2.0" fill="#333"/><path d="M270,355 L328,380 M270,355 L322,390" stroke-width="1.8"/><ellipse cx="325" cy="385" rx="17" ry="17" stroke-width="2.0" fill="#333"/><path d="M730,118 L793,143 M730,118 L787,153" stroke-width="1.8"/><ellipse cx="790" cy="148" rx="17" ry="17" stroke-width="2.0" fill="#333"/><path d="M760,212 L818,235 M760,212 L812,245" stroke-width="1.8"/><ellipse cx="815" cy="240" rx="17" ry="17" stroke-width="2.0" fill="#333"/><path d="M1050,80 L1183,145 M1050,80 L1177,155" stroke-width="1.8"/><ellipse cx="1180" cy="150" rx="18" ry="18" stroke-width="2.0" fill="#333"/><path d="M690,690 L700,570" stroke-width="1.6"/></g>
<g transform="translate(1020,640) scale(0.197044)"><ellipse cx="1340" cy="520" rx="66" ry="82" transform="rotate(-15 1340 520)" stroke-width="2.8"/><ellipse cx="1322" cy="530" rx="30" ry="46" transform="rotate(-15 1322 530)" stroke-width="3.2"/><ellipse cx="1335" cy="522" rx="48" ry="62" transform="rotate(-15 1335 522)" stroke-width="1.4"/><ellipse cx="1128" cy="690" rx="183" ry="213" transform="rotate(-15 1128 690)" stroke-width="2.4" fill="#1c1c1c"/><path d="M1218,663 Q1264,671 1291,644 M1222,691 Q1267,712 1299,692 M1221,718 Q1261,750 1296,741 M1214,743 Q1247,785 1284,787 M1202,766 Q1226,815 1263,826 M1186,783 Q1200,837 1234,858 M1166,796 Q1169,850 1198,880 M1143,802 Q1135,854 1158,891 M1120,801 Q1101,849 1116,890 M1097,794 Q1068,834 1075,877 M1075,781 Q1039,810 1036,853 M1057,762 Q1014,780 1003,820 M1042,739 Q996,744 977,779 M1032,713 Q986,705 959,732 M1028,685 Q983,664 951,684 M1029,658 Q989,626 954,635 M1036,633 Q1003,591 966,589 M1048,610 Q1024,561 987,550 M1064,593 Q1050,539 1016,518 M1084,580 Q1081,526 1052,496 M1107,574 Q1115,522 1092,485 M1130,575 Q1149,527 1134,486 M1153,582 Q1182,542 1175,499 M1175,595 Q1211,566 1214,523 M1193,614 Q1236,596 1247,556 M1208,637 Q1254,632 1273,597" stroke-width="1.7" stroke="#fff"/><ellipse cx="1106" cy="695" rx="62" ry="88" transform="rotate(-15 1106 695)" stroke-width="2.4" fill="#fff"/><ellipse cx="1100" cy="700" rx="34" ry="50" transform="rotate(-15 1100 700)" stroke-width="6.0" fill="#fff"/><path d="M752,738 L945,633 A94,127 -15 0,1 1076,865 L901,970 Z" stroke-width="2.6" fill="#fff"/><ellipse cx="822" cy="861" rx="94" ry="127" transform="rotate(-15 822 861)" stroke-width="2.6" fill="#fff"/><path d="M643,876 L731,827 L731,999 L643,1048 Z" stroke-width="0.1" fill="#fff"/><path d="M640,876 L731,827 M645,1048 L735,999" stroke-width="2.6"/><ellipse cx="731" cy="913" rx="66" ry="86" transform="rotate(-15 731 913)" stroke-width="1.8"/><ellipse cx="643" cy="962" rx="66" ry="86" transform="rotate(-15 643 962)" stroke-width="3.0" fill="#fff"/><ellipse cx="640" cy="965" rx="45" ry="62" transform="rotate(-15 640 965)" stroke-width="1.6"/><path d="M735,900 L780,880 L790,930 L745,950" stroke-width="2.0"/><ellipse cx="600" cy="985" rx="24" ry="34" transform="rotate(-15 600 985)" stroke-width="2.4" fill="#fff"/><ellipse cx="603" cy="983" rx="12" ry="18" transform="rotate(-15 603 983)" stroke-width="2.0"/><path d="M575,1000 L540,1015 M880,855 L1000,790" stroke-width="1.8"/><ellipse cx="475" cy="1052" rx="58" ry="66" transform="rotate(-15 475 1052)" stroke-width="3.4"/><ellipse cx="468" cy="1060" rx="30" ry="38" transform="rotate(-15 468 1060)" stroke-width="2.2"/><ellipse cx="462" cy="1063" rx="14" ry="18" transform="rotate(-15 462 1063)" stroke-width="1.6"/><path d="M0,1320 L250,1180 M1270,570 L1460,460" stroke-width="1.8"/></g>
<g transform="translate(1560,240) scale(0.246305)"><ellipse cx="615" cy="845" rx="48" ry="56" transform="rotate(-20 615 845)" stroke-width="2.2"/><ellipse cx="620" cy="850" rx="22" ry="26" transform="rotate(-20 620 850)" stroke-width="1.8"/><path d="M682,878 L722,862 L772,892 L962,1022 C968,1040 952,1052 936,1046 L762,936 L702,936 L682,906 Z" stroke-width="2.0"/><ellipse cx="702" cy="898" rx="24" ry="36" transform="rotate(-15 702 898)" stroke-width="2.0"/><path d="M760,900 L775,940 M800,930 L830,980 L900,1010 M840,960 L880,980" stroke-width="1.8"/><path d="M980,1082 L1040,1042 L1100,1090 L1112,1150 L1062,1177 L1000,1162 L968,1102 Z" stroke-width="2.0" fill="#1e1e1e"/><path d="M1000,1090 L1030,1160 M1030,1070 L1060,1160 M1060,1080 L1085,1150" stroke-width="2.0" stroke="#777"/><ellipse cx="1322" cy="1270" rx="36" ry="40" stroke-width="2.0"/><ellipse cx="1330" cy="1276" rx="12" ry="14" stroke-width="1.6"/><ellipse cx="1460" cy="1345" rx="95" ry="115" transform="rotate(-15 1460 1345)" stroke-width="2.4"/><ellipse cx="1462" cy="1350" rx="78" ry="95" transform="rotate(-15 1462 1350)" stroke-width="1.6"/><ellipse cx="1470" cy="1352" rx="25" ry="32" transform="rotate(-15 1470 1352)" stroke-width="1.8"/><path d="M1380,1330 L1400,1420 M1540,1300 L1555,1320" stroke-width="3.0"/><ellipse cx="1585" cy="1420" rx="35" ry="40" stroke-width="2.0"/><ellipse cx="1590" cy="1422" rx="14" ry="16" stroke-width="1.6"/><ellipse cx="1672" cy="1470" rx="38" ry="46" stroke-width="2.0"/><ellipse cx="1670" cy="1472" rx="15" ry="18" stroke-width="1.6"/><ellipse cx="1742" cy="1520" rx="26" ry="32" stroke-width="3.0"/><ellipse cx="1805" cy="1562" rx="20" ry="26" stroke-width="4.0"/><path d="M290,670 L580,840 M660,885 L690,900 M960,1040 L985,1055 M1110,1145 L1320,1270 M1350,1290 L1560,1410 M1620,1450 L1800,1560" stroke-width="2.0"/></g>
<path d="M1881.1,1006.9 L1893.7,997.3 L1889.7,992.1 L1877.1,1001.7 Z" stroke-width="1.6"/><path d="M1889.7,992.1 L1877.1,1001.7" stroke-width="2.6"/><path d="M1893.7,995.0 L1906.3,985.4 L1902.3,980.2 L1889.7,989.8 Z" stroke-width="1.6"/><path d="M1902.3,980.2 L1889.7,989.8" stroke-width="2.6"/><path d="M1908.5,986.0 L1921.1,976.4 L1917.1,971.1 L1904.5,980.8 Z" stroke-width="1.6"/><path d="M1917.1,971.1 L1904.5,980.8" stroke-width="2.6"/><path d="M1921.1,974.1 L1933.7,964.5 L1929.7,959.2 L1917.1,968.9 Z" stroke-width="1.6"/><path d="M1929.7,959.2 L1917.1,968.9" stroke-width="2.6"/><path d="M1935.9,965.1 L1948.5,955.5 L1944.5,950.2 L1931.9,959.8 Z" stroke-width="1.6"/><path d="M1944.5,950.2 L1931.9,959.8" stroke-width="2.6"/><path d="M1948.5,953.2 L1961.2,943.6 L1957.2,938.3 L1944.5,948.0 Z" stroke-width="1.6"/><path d="M1957.2,938.3 L1944.5,948.0" stroke-width="2.6"/><path d="M1963.3,944.2 L1976.0,934.5 L1972.0,929.3 L1959.3,938.9 Z" stroke-width="1.6"/><path d="M1972.0,929.3 L1959.3,938.9" stroke-width="2.6"/><path d="M1976.0,932.3 L1988.6,922.7 L1984.6,917.4 L1972.0,927.0 Z" stroke-width="1.6"/><path d="M1984.6,917.4 L1972.0,927.0" stroke-width="2.6"/><path d="M1990.8,923.3 L2003.4,913.6 L1999.4,908.4 L1986.8,918.0 Z" stroke-width="1.6"/><path d="M1999.4,908.4 L1986.8,918.0" stroke-width="2.6"/><path d="M2003.4,911.4 L2016.0,901.7 L2012.0,896.5 L1999.4,906.1 Z" stroke-width="1.6"/><path d="M2012.0,896.5 L1999.4,906.1" stroke-width="2.6"/><path d="M2018.2,902.3 L2030.8,892.7 L2026.8,887.5 L2014.2,897.1 Z" stroke-width="1.6"/><path d="M2026.8,887.5 L2014.2,897.1" stroke-width="2.6"/><path d="M2030.8,890.4 L2043.4,880.8 L2039.4,875.6 L2026.8,885.2 Z" stroke-width="1.6"/><path d="M2039.4,875.6 L2026.8,885.2" stroke-width="2.6"/><path d="M2045.6,881.4 L2058.2,871.8 L2054.2,866.6 L2041.6,876.2 Z" stroke-width="1.6"/><path d="M2054.2,866.6 L2041.6,876.2" stroke-width="2.6"/><path d="M2058.2,869.5 L2070.8,859.9 L2066.8,854.7 L2054.2,864.3 Z" stroke-width="1.6"/><path d="M2066.8,854.7 L2054.2,864.3" stroke-width="2.6"/><path d="M2073.0,860.5 L2085.6,850.9 L2081.6,845.6 L2069.0,855.3 Z" stroke-width="1.6"/><path d="M2081.6,845.6 L2069.0,855.3" stroke-width="2.6"/><path d="M2085.6,848.6 L2098.2,839.0 L2094.2,833.7 L2081.6,843.4 Z" stroke-width="1.6"/><path d="M2094.2,833.7 L2081.6,843.4" stroke-width="2.6"/><path d="M2100.4,839.6 L2113.0,830.0 L2109.0,824.7 L2096.4,834.3 Z" stroke-width="1.6"/><path d="M2109.0,824.7 L2096.4,834.3" stroke-width="2.6"/><path d="M2113.0,827.7 L2125.7,818.1 L2121.7,812.8 L2109.0,822.5 Z" stroke-width="1.6"/><path d="M2121.7,812.8 L2109.0,822.5" stroke-width="2.6"/><path d="M2127.8,818.7 L2140.5,809.0 L2136.5,803.8 L2123.8,813.4 Z" stroke-width="1.6"/><path d="M2136.5,803.8 L2123.8,813.4" stroke-width="2.6"/><path d="M2140.5,806.8 L2153.1,797.2 L2149.1,791.9 L2136.5,801.5 Z" stroke-width="1.6"/><path d="M2149.1,791.9 L2136.5,801.5" stroke-width="2.6"/><path d="M2155.3,797.8 L2167.9,788.1 L2163.9,782.9 L2151.3,792.5 Z" stroke-width="1.6"/><path d="M2163.9,782.9 L2151.3,792.5" stroke-width="2.6"/><path d="M2167.9,785.9 L2180.5,776.2 L2176.5,771.0 L2163.9,780.6 Z" stroke-width="1.6"/><path d="M2176.5,771.0 L2163.9,780.6" stroke-width="2.6"/><path d="M2182.7,776.8 L2195.3,767.2 L2191.3,762.0 L2178.7,771.6 Z" stroke-width="1.6"/><path d="M2191.3,762.0 L2178.7,771.6" stroke-width="2.6"/><path d="M2195.3,764.9 L2207.9,755.3 L2203.9,750.1 L2191.3,759.7 Z" stroke-width="1.6"/><path d="M2203.9,750.1 L2191.3,759.7" stroke-width="2.6"/><path d="M1890.1,1042.9 L1902.4,1033.2 L1898.3,1028.0 L1886.0,1037.7 Z" stroke-width="1.6"/><path d="M1898.3,1028.0 L1886.0,1037.7" stroke-width="2.6"/><path d="M1902.3,1030.9 L1914.5,1021.3 L1910.4,1016.1 L1898.2,1025.8 Z" stroke-width="1.6"/><path d="M1910.4,1016.1 L1898.2,1025.8" stroke-width="2.6"/><path d="M1916.7,1021.8 L1928.9,1012.2 L1924.8,1007.0 L1912.6,1016.7 Z" stroke-width="1.6"/><path d="M1924.8,1007.0 L1912.6,1016.7" stroke-width="2.6"/><path d="M1928.9,1009.9 L1941.1,1000.2 L1937.0,995.0 L1924.8,1004.7 Z" stroke-width="1.6"/><path d="M1937.0,995.0 L1924.8,1004.7" stroke-width="2.6"/><path d="M1943.3,1000.8 L1955.5,991.1 L1951.4,985.9 L1939.2,995.6 Z" stroke-width="1.6"/><path d="M1951.4,985.9 L1939.2,995.6" stroke-width="2.6"/><path d="M1955.4,988.9 L1967.6,979.2 L1963.5,974.0 L1951.3,983.7 Z" stroke-width="1.6"/><path d="M1963.5,974.0 L1951.3,983.7" stroke-width="2.6"/><path d="M1969.8,979.8 L1982.0,970.1 L1977.9,964.9 L1965.7,974.6 Z" stroke-width="1.6"/><path d="M1977.9,964.9 L1965.7,974.6" stroke-width="2.6"/><path d="M1982.0,967.8 L1994.2,958.1 L1990.1,953.0 L1977.9,962.6 Z" stroke-width="1.6"/><path d="M1990.1,953.0 L1977.9,962.6" stroke-width="2.6"/><path d="M1996.4,958.7 L2008.6,949.0 L2004.5,943.9 L1992.3,953.5 Z" stroke-width="1.6"/><path d="M2004.5,943.9 L1992.3,953.5" stroke-width="2.6"/><path d="M2008.5,946.8 L2020.8,937.1 L2016.7,931.9 L2004.4,941.6 Z" stroke-width="1.6"/><path d="M2016.7,931.9 L2004.4,941.6" stroke-width="2.6"/><path d="M2022.9,937.7 L2035.2,928.0 L2031.1,922.8 L2018.8,932.5 Z" stroke-width="1.6"/><path d="M2031.1,922.8 L2018.8,932.5" stroke-width="2.6"/><path d="M2035.1,925.7 L2047.3,916.1 L2043.2,910.9 L2031.0,920.6 Z" stroke-width="1.6"/><path d="M2043.2,910.9 L2031.0,920.6" stroke-width="2.6"/><path d="M2049.5,916.6 L2061.7,907.0 L2057.6,901.8 L2045.4,911.5 Z" stroke-width="1.6"/><path d="M2057.6,901.8 L2045.4,911.5" stroke-width="2.6"/><path d="M2061.7,904.7 L2073.9,895.0 L2069.8,889.8 L2057.6,899.5 Z" stroke-width="1.6"/><path d="M2069.8,889.8 L2057.6,899.5" stroke-width="2.6"/><path d="M2076.1,895.6 L2088.3,885.9 L2084.2,880.7 L2072.0,890.4 Z" stroke-width="1.6"/><path d="M2084.2,880.7 L2072.0,890.4" stroke-width="2.6"/><path d="M2088.2,883.7 L2100.4,874.0 L2096.3,868.8 L2084.1,878.5 Z" stroke-width="1.6"/><path d="M2096.3,868.8 L2084.1,878.5" stroke-width="2.6"/><path d="M2102.6,874.6 L2114.8,864.9 L2110.7,859.7 L2098.5,869.4 Z" stroke-width="1.6"/><path d="M2110.7,859.7 L2098.5,869.4" stroke-width="2.6"/><path d="M2114.8,862.6 L2127.0,852.9 L2122.9,847.8 L2110.7,857.4 Z" stroke-width="1.6"/><path d="M2122.9,847.8 L2110.7,857.4" stroke-width="2.6"/><path d="M2129.2,853.5 L2141.4,843.8 L2137.3,838.7 L2125.1,848.3 Z" stroke-width="1.6"/><path d="M2137.3,838.7 L2125.1,848.3" stroke-width="2.6"/><path d="M2141.3,841.6 L2153.6,831.9 L2149.5,826.7 L2137.2,836.4 Z" stroke-width="1.6"/><path d="M2149.5,826.7 L2137.2,836.4" stroke-width="2.6"/><path d="M2155.7,832.5 L2168.0,822.8 L2163.9,817.6 L2151.6,827.3 Z" stroke-width="1.6"/><path d="M2163.9,817.6 L2151.6,827.3" stroke-width="2.6"/><path d="M2167.9,820.5 L2180.1,810.9 L2176.0,805.7 L2163.8,815.4 Z" stroke-width="1.6"/><path d="M2176.0,805.7 L2163.8,815.4" stroke-width="2.6"/><path d="M2182.3,811.4 L2194.5,801.8 L2190.4,796.6 L2178.2,806.3 Z" stroke-width="1.6"/><path d="M2190.4,796.6 L2178.2,806.3" stroke-width="2.6"/><path d="M2194.5,799.5 L2206.7,789.8 L2202.6,784.6 L2190.4,794.3 Z" stroke-width="1.6"/><path d="M2202.6,784.6 L2190.4,794.3" stroke-width="2.6"/><path d="M2208.9,790.4 L2221.1,780.7 L2217.0,775.5 L2204.8,785.2 Z" stroke-width="1.6"/><path d="M2217.0,775.5 L2204.8,785.2" stroke-width="2.6"/><path d="M2205,752 C2212,746 2222,748 2225,756 C2227,764 2225,772 2219,778" stroke-width="3.0"/><path d="M2212,762 C2216,760 2220,764 2219,772" stroke-width="1.8"/><path d="M1878,1004 C1868,1010 1863,1022 1862,1036 C1864,1044 1872,1047 1881,1046 L1886,1042" stroke-width="3.2"/><path d="M1872,1012 L1866,1036 M1866,1036 L1882,1040" stroke-width="2.2"/><path d="M1774.8,933.6 C1780,924 1788,914 1797,907.8 L2077.7,690.5 C2084,686.5 2092,687 2095.5,694.2 C2097.5,698 2097,703 2095,707.8" stroke-width="4.2"/><path d="M2095,707.8 L1907.8,867.1 L1811.7,937.3 C1800,945 1790,951 1782.8,955.8 L1778.5,952 L1774.8,933.6" stroke-width="2.2"/><path d="M1784,943.5 L1831,904.5 C1834,902 1837,904 1835,908 L1788,947 C1785,949 1782,947 1784,943.5 Z" stroke-width="2.0"/><ellipse cx="1803.7" cy="916.4" rx="3.0" ry="3.8" stroke-width="1.8"/><ellipse cx="1808" cy="934.3" rx="3.6" ry="3.6" stroke-width="1.4" fill="#1a1a1a"/><ellipse cx="1816" cy="933" rx="2.4" ry="2.4" stroke-width="1.2" fill="#1a1a1a"/><ellipse cx="2082.7" cy="707.8" rx="2.8" ry="3.6" transform="rotate(30 2082.7 707.8)" stroke-width="1.8"/><path d="M1898.5,831.4 L1920.1,836.4 L1907.2,867.8 L1891.8,863.4 Z" stroke-width="2.0"/><path d="M1881.3,861 L1910.5,843.7 L1911.7,849 L1896,864 L1886.8,871.5 Z" stroke-width="1.0" fill="#1a1a1a"/><path d="M1927,838 L1929,830 C1930,820 1936,812 1944,812 C1950,813 1952,820 1948,828 L1942,834 Z" stroke-width="2.0" fill="#1a1a1a"/><path d="M1934,826 C1937,820 1942,818 1944,822" stroke-width="1.4" stroke="#fff"/><path d="M1945,830 L1954,809 L1958,820 Z M1950,808 L1958,795 L1962,794" stroke-width="2.4"/><path d="M1962,808 L1968,787 L1982,782 M1965,798 L1975,796 M1976,806 L1983,785 L1990,784" stroke-width="2.8"/><path d="M1779.4,918.2 L1986.3,1029 M2004.8,1037.6 L2024.5,1050 M2043,1058.6 L2208,1147.2" stroke-width="1.8"/><path d="M2052,1033 L2072,1016" stroke-width="6"/><path d="M2053,1032 L2071,1017" stroke-width="2" stroke="#fff"/><path d="M2056,1040 L2000,1080" stroke-width="1.6"/><path d="M2014.6,1082 L2027,1078.3 L2114.4,1014.2 L2124.2,1018 L2128,1027.8 L2131.6,1052.4 L2136.6,1082 L2134,1101.7 L2033.1,1165.7 L2029.4,1163.3 Z" stroke-width="2.2"/><path d="M2027,1078.3 L2030,1090 L2042,1160 M2055,1050 L2124,1020.4 M2034,1124 L2131.6,1060 M2040,1150 L2132,1098" stroke-width="1.6"/><ellipse cx="2057.7" cy="1112.8" rx="21" ry="10" transform="rotate(-38 2057.7 1112.8)" stroke-width="2.0"/><ellipse cx="2094.7" cy="1084.4" rx="9" ry="11" stroke-width="2.2"/><ellipse cx="2094.7" cy="1084.4" rx="6" ry="7.5" stroke-width="1.6"/><path d="M2104.5,1043.8 L2116,1036 L2115,1032 L2123,1030 L2119,1038 L2117,1035 L2106,1042 Z" stroke-width="1.8"/><path d="M2082,1057 L2099,1047" stroke-width="3.4"/><path d="M2045,1152 L2061,1142" stroke-width="5"/><path d="M2047,1151 L2059,1143" stroke-width="1.6" stroke="#fff"/><path d="M2017,1088 L2024,1086 L2025,1093 L2018,1095 Z M2017,1108 L2024,1106 L2025,1113 L2018,1115 Z M2024,1145 L2031,1143 L2032,1150 L2025,1152 Z" stroke-width="1.6"/><ellipse cx="2158.7" cy="1117.7" rx="8.5" ry="10" stroke-width="3.2"/><ellipse cx="2159.5" cy="1118.5" rx="3.5" ry="4.5" stroke-width="1.8"/><ellipse cx="2197.3" cy="1140" rx="5.5" ry="6.8" stroke-width="3.6"/><path d="M1574.6,1339.6 L1760,1214 C1790,1193 1815,1178 1832,1170.8 C1840,1167.5 1844,1166.8 1848,1166.8 C1856,1166.8 1860,1169 1864,1174.8 C1871,1182 1874,1190 1873,1200 C1872,1210 1868,1220 1864,1226 C1858,1234 1852,1238 1848,1242 C1840,1250 1832,1255 1824,1260 L1780,1300 L1594.3,1417.1 L1591.8,1418.4 L1579.5,1412.2 Z" stroke-width="2.8"/><path d="M1574.6,1339.6 L1589.4,1348.2 L1594.3,1417.1 M1580,1352 L1586,1350 L1590,1405 M1582,1360 L1588,1358" stroke-width="2.4"/><path d="M1593.6,1399.8 L1780,1274.3 L1826,1244 C1840,1235 1851,1226 1857,1216 C1862,1206 1861,1197 1856,1193 C1851,1189 1844,1190 1836,1195" stroke-width="2.6"/><path d="M1596,1392 L1778,1268 L1822,1239 C1834,1231 1845,1222 1851,1213 C1855,1205 1854,1199 1851,1197 C1847,1194 1842,1196 1836,1200" stroke-width="2.0"/><path d="M1680,1305 L1758,1252 L1808,1216 L1836,1197" stroke-width="4.5"/><path d="M1767.2,1250.8 L1806,1226.8 L1807.8,1242.5 L1769,1269.3 Z" stroke-width="2.6"/><path d="M1774,1251 L1803,1234 L1804,1243 L1775,1262 Z M1795,1238 L1797,1244" stroke-width="2.0"/><path d="M1623.4,1340.3 L1675.8,1314.4 L1683.5,1331.3 L1626.6,1379.1 Z" stroke-width="2.6"/><path d="M1637,1340 L1674,1319 L1674,1332 L1638,1358 Z M1646,1336 L1648,1350 M1666,1324 L1660,1336 L1672,1333" stroke-width="2.0"/><path d="M1678.4,1304.1 L1757.9,1251.7 L1767,1274.3 L1684.2,1330.6 Z" stroke-width="2.6"/><path d="M1590.8,1358 L1619.4,1343.2 L1622.2,1380 L1593.6,1398.6 M1596,1380 L1606,1375 M1615,1346 L1618,1380" stroke-width="2.2"/><rect x="1397.7" y="1099.4" width="195.3" height="193.4" rx="15" ry="15" stroke-width="2.2"/><ellipse cx="1503.5" cy="1161.5" rx="13.2" ry="10.5" stroke-width="2.0"/><path d="M1476.8,1177 L1490.3,1168.4 L1516.7,1169.6 L1529.5,1185.6 L1529.5,1232.4 L1510.5,1243.5 L1476.8,1223.8 Z M1478.5,1180.7 L1506.8,1194.2" stroke-width="2.0"/><g transform="translate(860,890) scale(0.080064)"><path d="M130,640 C130,520 170,450 250,430 L500,540 C620,600 760,720 830,820 C870,900 880,1050 870,1200 C860,1350 830,1440 750,1450 L450,1445 C330,1430 240,1330 200,1200 C160,1060 130,850 130,640 Z" stroke-width="3.0" fill="#fff"/><path d="M200,640 C210,580 250,560 300,570 L480,640 C600,700 720,800 780,870 C820,950 830,1100 820,1250 C800,1380 720,1420 600,1410 L450,1400 C350,1380 280,1300 250,1180 C220,1050 195,850 200,640 Z" stroke-width="2.4"/><path d="M190,620 C200,560 260,530 330,545 C420,560 500,620 560,700 C620,780 700,880 780,930 C830,950 850,930 840,900 C800,820 720,760 640,700 M240,650 C300,640 380,660 460,740 C530,820 600,900 680,940" stroke-width="2.6"/><path d="M320,980 C330,1060 380,1160 460,1230 C540,1280 640,1280 720,1240 L860,1180 M300,1080 C350,1200 430,1290 560,1340 C660,1370 760,1340 840,1290" stroke-width="2.4"/><path d="M220,440 L640,190 C670,180 700,185 730,200 L900,320 M780,225 C860,190 960,170 1060,200 C1160,240 1250,330 1300,480 C1340,600 1360,750 1360,900 C1362,1050 1350,1150 1300,1200 L900,1440" stroke-width="3.0"/><path d="M500,560 L900,330 M560,620 L980,380 M880,830 L1300,580 M900,860 L1310,610 M900,1000 L1350,790 M920,1050 L1355,840 M920,1290 L1340,1070 M930,1320 L1330,1120" stroke-width="2.6"/><path d="M900,310 C960,290 1030,300 1090,360 C1150,420 1200,480 1260,560" stroke-width="2.4"/><path d="M210,720 L330,660 M220,780 L340,700" stroke-width="2.4"/><ellipse cx="390" cy="1180" rx="22" ry="22" stroke-width="2.0" fill="#222"/><path d="M0,1320 L320,1150 M1320,540 L1550,420 M520,1030 L630,970" stroke-width="2.0"/></g>
<g transform="translate(960,820) scale(0.086207)"><path d="M295,380 L370,305 L430,380 L500,338 L870,560 L940,600 L1000,700 L1060,710 L1080,740 L1165,1400 L1000,1480 L520,1190 L440,1060 L380,880 Z" stroke-width="3.0" fill="#fff"/><path d="M430,420 L870,600 L960,750 L1000,780 L1060,1380 L990,1440 L540,1170 L470,1030 L420,840 Z" stroke-width="2.2"/><path d="M295,380 L340,440 L430,380 M340,440 L380,880 M1000,780 L1060,710 M1165,1400 L1060,1380 M990,1440 L1000,1480" stroke-width="2.2"/><ellipse cx="710" cy="905" rx="232" ry="338" transform="rotate(-18 710 905)" stroke-width="3.0"/><ellipse cx="705" cy="905" rx="192" ry="290" transform="rotate(-18 705 905)" stroke-width="2.4"/><path d="M560,470 L620,430 M700,550 L760,510 M820,620 L880,580 M900,700 L960,660 M540,1160 L600,1130 M800,1320 L860,1290" stroke-width="2.4"/><path d="M250,800 L420,700 L470,760 L470,830 L330,915 C280,920 240,880 250,800 Z" stroke-width="2.6" fill="#fff"/><ellipse cx="290" cy="855" rx="40" ry="55" transform="rotate(-10 290 855)" stroke-width="2.2"/><ellipse cx="290" cy="855" rx="14" ry="14" stroke-width="1.8"/><path d="M760,1100 L940,1000 C1000,1010 1010,1150 960,1180 L800,1230 Z" stroke-width="2.4" fill="#fff"/><ellipse cx="795" cy="1160" rx="32" ry="42" transform="rotate(-10 795 1160)" stroke-width="2.2"/><path d="M960,1370 L1060,1370 L1060,1460 L990,1470 Z" stroke-width="2.4"/><ellipse cx="1420" cy="500" rx="150" ry="185" transform="rotate(-15 1420 500)" stroke-width="3.4"/><ellipse cx="1395" cy="515" rx="100" ry="135" transform="rotate(-15 1395 515)" stroke-width="3.0"/><ellipse cx="1385" cy="520" rx="62" ry="90" transform="rotate(-15 1385 520)" stroke-width="2.2"/><path d="M815,412 L1290,155 M830,428 L1300,172" stroke-width="2.2"/><ellipse cx="1288" cy="165" rx="32" ry="32" stroke-width="2.0" fill="#222"/><path d="M1268,938 L1650,702 M1280,952 L1662,716" stroke-width="2.2"/><ellipse cx="1655" cy="705" rx="32" ry="32" stroke-width="2.0" fill="#222"/><path d="M620,990 L1290,600 M380,1140 L470,1090 M80,1320 L280,1200" stroke-width="2.4"/></g>
<g transform="translate(1180,260) scale(0.110865)"><path d="M350,210 C350,160 400,130 450,135 L1180,540 C1250,580 1280,640 1290,720 L1305,1100 C1310,1200 1295,1300 1240,1365 C1205,1392 1170,1395 1140,1380 L1090,1350 M910,1255 L915,1248 L490,1010 C462,992 452,962 447,922 L350,210" stroke-width="2.4"/><path d="M455,300 L700,440 C730,460 742,500 748,555 M500,325 C505,360 520,385 560,400 L720,480 C735,500 742,525 745,555" stroke-width="2.4"/><path d="M490,520 L900,780 C925,800 935,840 938,880 M530,550 C535,590 550,610 590,630 L900,800 C920,820 930,850 935,880" stroke-width="2.4"/><path d="M540,780 L1070,1090 C1100,1110 1110,1150 1105,1220 M590,810 C595,850 610,870 640,890 L945,1060 L945,1140 L1100,1220" stroke-width="2.4"/><path d="M815,520 L1150,1060 C1165,1075 1175,1065 1175,1050 L1170,800 C1165,740 1150,700 1120,680 L870,525 C850,512 825,510 815,520" stroke-width="2.4"/><path d="M630,530 L640,570" stroke-width="4"/><path d="M750,1420 L880,1305 L970,1345 L850,1470 Z M800,1420 L880,1350 L950,1380" stroke-width="2.2"/></g>
<g transform="translate(1580,300) scale(0.110803)"><path d="M70,655 L600,295 C610,200 680,80 760,75 C820,70 860,100 880,125 L1010,50 L1280,200 C1320,350 1370,600 1385,820 C1390,900 1370,950 1340,980 L490,1545 L220,1340 Z" stroke-width="3.0"/><path d="M90,640 L550,360 L620,310 M140,610 L160,640" stroke-width="2.0"/><path d="M230,690 L500,540 L730,690 M230,690 L520,800" stroke-width="2.2"/><path d="M600,295 L880,430 L870,480 L700,700 M880,125 L1050,300 L1280,200 M1050,300 L1140,620 L1385,820 M780,780 L1140,620" stroke-width="2.4"/><path d="M760,330 C790,220 870,180 950,200 C960,210 970,220 975,230" stroke-width="2.4"/><ellipse cx="560" cy="975" rx="215" ry="245" transform="rotate(-10 560 975)" stroke-width="3.0"/><ellipse cx="555" cy="985" rx="160" ry="190" transform="rotate(-10 555 985)" stroke-width="2.4"/><ellipse cx="560" cy="985" rx="125" ry="150" transform="rotate(-10 560 985)" stroke-width="2.0"/><path d="M400,800 L440,760 M380,880 L330,860 M420,1100 L380,1120 M560,740 L600,700 M700,820 L740,800 M700,1100 L740,1130 M560,1180 L580,1230" stroke-width="3.0"/><path d="M350,820 C380,900 380,1000 360,1100 M370,820 C400,900 400,1000 380,1100" stroke-width="3.0"/><path d="M110,730 L190,790 L250,1330 L230,1340 Z" stroke-width="2.2"/><path d="M220,1340 L480,1520 M240,1320 L500,1490 M210,810 L330,840 M200,910 L330,960 M220,1100 L330,1160" stroke-width="2.2"/><path d="M1110,740 L1340,860 M1100,780 L1330,900" stroke-width="2.2"/><ellipse cx="1352" cy="882" rx="25" ry="30" stroke-width="2.2"/><ellipse cx="1150" cy="215" rx="75" ry="75" stroke-width="2.4"/><ellipse cx="1165" cy="225" rx="40" ry="50" stroke-width="2.2"/><path d="M1170,290 L1290,380 M1080,260 L1200,340" stroke-width="2.2"/><ellipse cx="1278" cy="382" rx="20" ry="22" stroke-width="2.0"/><path d="M260,1260 L430,1330 M280,1230 L450,1300" stroke-width="2.2"/><ellipse cx="435" cy="1345" rx="25" ry="30" stroke-width="2.2"/><path d="M800,520 L860,480 L900,690 L830,730 Z" stroke-width="2.2"/><path d="M455,700 L530,650 L600,680 L540,730 Z" stroke-width="2.4"/><ellipse cx="800" cy="1000" rx="25" ry="28" stroke-width="2.4"/><path d="M700,1120 L880,1240 M720,1100 L890,1210 M500,1240 L680,1370 M510,1270 L670,1390" stroke-width="2.2"/><path d="M540,380 C560,360 600,360 620,390 L640,470 L600,500 L560,470 Z" stroke-width="2.2"/></g>
<g transform="translate(680,940) scale(0.117028)"><path d="M245,655 L1015,75 L1135,130 L1140,170 L1350,300 L1395,285 L1525,370 L1555,450 L1600,700 L1620,1040 L1520,1110 L1420,1075 L980,1270 L825,1530 L690,1470 L560,1400 L420,1320 L280,1220 L180,1100 L140,950 C150,860 190,800 245,760 Z" stroke-width="3.0" fill="#fff"/><path d="M245,655 L250,700 L720,960 L770,1060 L825,1530 M250,700 L720,940 M255,720 L715,975" stroke-width="2.4"/><path d="M600,380 L1000,90 M610,395 L1010,110 M1130,130 L1130,165 L1300,290" stroke-width="2.2"/><path d="M720,960 L1460,440 L1525,370 M760,960 L1030,800" stroke-width="2.4"/><path d="M790,380 L1050,525 L1365,318 M1060,660 L1480,360 M1065,660 L1100,700 M1100,740 L1180,700" stroke-width="2.4"/><path d="M920,1040 L1475,630 L1525,900 L1000,1220 M1000,1220 L1420,1075" stroke-width="2.4"/><path d="M690,520 C690,460 730,430 770,445 L860,500 C880,520 880,560 860,580 L800,620 C760,630 700,600 690,520 Z" stroke-width="2.4" fill="#fff"/><ellipse cx="830" cy="545" rx="35" ry="45" stroke-width="2.4"/><path d="M830,560 L850,565" stroke-width="2.4"/><path d="M520,760 L740,600" stroke-width="2.0"/><ellipse cx="780" cy="1210" rx="155" ry="140" transform="rotate(-10 780 1210)" stroke-width="3.0" fill="#fff"/><ellipse cx="790" cy="1215" rx="110" ry="108" transform="rotate(-10 790 1215)" stroke-width="3.0"/><ellipse cx="795" cy="1218" rx="90" ry="88" transform="rotate(-10 795 1218)" stroke-width="1.8"/><path d="M160,850 C150,950 160,1050 230,1100 M200,830 C190,930 200,1030 260,1080 M240,800 C230,900 240,1000 300,1060" stroke-width="2.6"/><path d="M270,820 L330,800 L380,900 L320,960 Z M400,850 L450,840 L480,950 L430,980 Z M300,960 L360,1000" stroke-width="2.2"/><ellipse cx="350" cy="1170" rx="80" ry="110" transform="rotate(-10 350 1170)" stroke-width="2.4" fill="#fff"/><path d="M330,1220 L400,1180" stroke-width="2.2"/><path d="M420,1100 L600,1000 M430,1170 L600,1080 M460,1220 L590,1150 M480,1280 L590,1220 M520,1000 L560,1100 M560,980 L600,1080" stroke-width="2.2"/><path d="M580,980 C600,960 640,960 650,990 L640,1030 L600,1040 Z" stroke-width="2.4"/><ellipse cx="630" cy="1010" rx="20" ry="20" stroke-width="2.4"/><path d="M560,1350 L640,1330 L700,1400 L660,1450 L600,1430 Z" stroke-width="2.2"/><ellipse cx="730" cy="1440" rx="30" ry="40" stroke-width="2.4"/><ellipse cx="750" cy="1380" rx="25" ry="30" stroke-width="2.2"/><path d="M850,1440 L1005,1350" stroke-width="6.0"/><path d="M90,660 L700,1010" stroke-width="2.4"/></g>
<g transform="translate(240,760) scale(0.123153)"><path d="M170,1180 C200,1060 260,950 330,860 C450,700 600,560 800,450 L900,400" stroke-width="3.2"/><path d="M380,1240 C380,1200 400,1150 440,1100 C540,980 660,880 800,770 L1040,900 C960,960 870,1030 780,1100 C680,1180 600,1250 540,1280 C480,1300 420,1290 380,1240 Z" stroke-width="3.2"/><path d="M400,1200 C430,1120 500,1030 600,950 C680,880 740,830 800,790" stroke-width="2.2"/><path d="M100,1340 L90,1370 L210,1440 L260,1410 L370,1390 L520,1380 L620,1440 L760,1500 L800,1540 L1000,1540 L1100,1490 L1130,1440 L1000,1330 L900,1260 L860,1200 L820,1100" stroke-width="2.6"/><path d="M160,1250 L500,1370 L700,1430 M160,1290 L470,1400 M200,1300 L240,1420 M260,1320 L300,1400" stroke-width="2.4"/><path d="M400,1500 C430,1460 500,1430 560,1410 L600,1390 L640,1400 L640,1440 L560,1480 L480,1530 L420,1540 Z M440,1510 C480,1480 530,1460 580,1440" stroke-width="2.4"/><ellipse cx="540" cy="1350" rx="24" ry="24" stroke-width="2.4" fill="#333"/><ellipse cx="870" cy="1290" rx="22" ry="22" stroke-width="2.4"/><ellipse cx="235" cy="1210" rx="22" ry="22" stroke-width="2.4"/><ellipse cx="320" cy="1070" rx="62" ry="45" transform="rotate(-20 320 1070)" stroke-width="2.6"/><ellipse cx="285" cy="1085" rx="12" ry="12" stroke-width="2.0"/><ellipse cx="355" cy="1060" rx="12" ry="12" stroke-width="2.0"/><path d="M300,1120 L300,1160" stroke-width="2.4"/><path d="M370,880 L430,850 L440,800 L490,830 L480,870 M380,920 L440,890 L450,940 M380,870 L420,950 M400,940 L460,910" stroke-width="3.0"/><path d="M560,680 C570,640 620,630 650,660 L660,760 L620,790 C590,780 570,740 560,680 Z" stroke-width="2.6"/><ellipse cx="615" cy="660" rx="18" ry="18" stroke-width="2.4"/><path d="M680,620 C700,600 760,600 800,620 L900,630 L900,660 L820,690 L720,680 Z M700,640 L880,650" stroke-width="2.6"/><path d="M870,380 C880,350 930,340 960,360 C990,390 1000,440 980,470 L940,500 L880,480 Z" stroke-width="2.6"/><ellipse cx="960" cy="390" rx="28" ry="28" stroke-width="2.4"/><ellipse cx="960" cy="400" rx="12" ry="12" stroke-width="2.2"/><path d="M980,620 L1040,480 L1100,420 L1200,390 L1240,440 L1260,560 L1250,680 L1200,760 Z" stroke-width="2.8" fill="#fff"/><path d="M1030,480 L1130,400 M1040,500 L1300,330 M1010,560 L880,600 L840,560 L820,470 L880,420" stroke-width="2.2"/><ellipse cx="1290" cy="630" rx="22" ry="22" stroke-width="2.6" fill="#333"/><path d="M640,1300 L700,1250 L760,1200 L860,1180 L900,1300 L880,1340 M700,1250 L740,1330 M760,1200 L800,1310 M720,1220 L780,1330 M740,1210 L790,1320" stroke-width="2.4"/><path d="M900,1300 L960,1290 L1100,1400 L1130,1440 M920,1440 L980,1420 L980,1470 Z M600,1300 L680,1280" stroke-width="2.4"/><path d="M1000,140 L1060,90 L1150,70 M1020,230 L1100,150 L1200,110 L1300,120 L1360,100 M1230,140 L1340,100 L1380,150 L1340,230 L1280,250 L1230,220 Z" stroke-width="2.4"/><path d="M1260,200 L1350,160 M1240,240 L1260,270 L1320,260" stroke-width="2.2"/><path d="M1060,280 L1100,360 L1140,420 M1100,260 L1150,340 M1180,300 L1240,260 M1320,320 L1390,270" stroke-width="2.2"/><path d="M1040,250 L1000,300 L1010,330" stroke-width="2.4"/></g>

</g>
<rect x="80.2" y="80.6" width="2179.2" height="1493.1" fill="none" stroke="#222" stroke-width="2.4"/>
<path d="M960.4 1400.9H992.4L1045.4 1338.8 M914.8 1379.5H946.8L974.0 1345.0 M874.2 1343.0H906.2L945.6 1283.4 M833.5 1306.8H865.6L1067.5 1221.8 M826.0 1230.0H858.0L912.2 1161.0 M785.4 1202.5H817.4L876.5 1136.5 M748.4 1176.4H780.0L872.8 1100.7 M702.9 1156.2H734.4L816.2 1110.6 M663.4 1123.4H695.0L736.1 1082.3 M507.6 983.3H539.7L561.8 950.0 M475.6 966.0H507.6L526.0 931.6 M415.3 946.4H448.5L463.3 911.9 M372.0 917.3H404.2L430.0 877.4 M431.4 1043.9H464.2L485.0 1006.0 M375.2 1010.2H408.0L430.0 978.4 M341.4 984.0H373.4L398.0 955.0 M241.1 1033.7H274.0L302.7 1003.8 M116.7 941.4H148.0L167.7 984.5 M154.7 907.0H186.2L204.7 958.7 M206.0 846.0H238.0L277.3 903.2 M378.3 689.7H410.8L425.0 711.0 M438.0 663.8H468.7L553.2 750.5 M481.3 646.6H511.8L518.7 679.0 M532.3 778.9H494.0L486.7 790.0 M571.7 794.0H533.5L484.2 826.9 M671.3 845.7H638.5L606.5 867.8 M682.4 877.7H714.4L738.3 811.2 M727.7 907.2H758.7L799.8 834.6 M769.0 933.6H801.0L872.5 821.0 M846.7 895.7H878.7L904.5 927.0 M928.7 856.3H960.0L988.3 888.8 M964.9 833.3H996.9L1032.6 854.3 M1004.3 816.6H1035.0L1074.0 853.0 M1042.7 791.3H1074.2L1104.7 839.0 M1093.3 773.4H1125.4L1182.6 796.7 M1191.4 715.9H1224.0L1274.2 734.6 M850.3 693.7H881.9L976.0 755.8 M892.2 671.3H923.0L967.3 710.2 M934.0 650.4H966.0L1010.0 674.5 M971.4 632.0H1003.4L1047.8 656.6 M1015.8 606.0H1047.8L1094.6 624.5 M981.3 577.7H1013.3L1034.2 533.4 M951.2 548.7H983.3L1008.4 526.0 M919.2 517.4H951.2L971.4 507.5 M1119.2 407.0H1151.7L1189.4 393.0 M1134.0 435.6H1166.0L1280.5 428.2 M1149.3 461.5H1180.8L1337.2 434.9 M1180.0 485.9H1211.6L1338.4 453.3 M1201.7 512.5H1233.7L1337.2 485.4 M1219.0 541.3H1251.0L1342.0 523.0 M1237.4 566.0H1269.5L1343.3 596.2 M1180.0 582.2H1211.6L1240.0 593.7 M1201.7 611.0H1233.7L1269.5 616.0 M1229.9 650.6H1260.4L1317.5 680.4 M1349.0 813.9H1381.0L1445.0 727.0 M1378.0 833.8H1409.6L1464.7 747.3 M1408.6 856.7H1440.1L1482.5 756.2 M1439.0 878.3H1471.6L1499.2 772.9 M1472.2 901.0H1504.5L1516.0 814.3 M1494.3 921.7H1526.8L1570.1 863.5 M1525.4 941.4H1557.3L1596.7 875.4 M1553.8 954.2H1585.9L1636.2 851.7 M1586.5 966.0H1618.4L1664.7 871.4 M1625.3 988.0H1657.8L1695.3 888.2 M1667.7 1010.3H1700.2L1718.9 895.0 M1506.6 461.7H1474.6L1454.9 527.4 M1532.5 485.6H1499.2L1468.4 542.2 M1558.3 512.2H1525.0L1484.4 651.8 M1588.4 533.6H1555.9L1512.8 623.5 M1617.4 552.8H1585.4L1486.9 682.6 M1637.1 577.0H1604.6L1546.0 706.0 M1660.5 601.8H1628.5L1533.7 723.2 M1680.2 624.2H1649.0L1599.0 662.9 M1712.3 640.7H1680.2L1666.7 659.2 M1752.4 678.4H1719.7L1654.4 730.6 M1613.0 499.1H1645.0L1664.7 451.8 M1646.0 526.6H1677.7L1711.5 449.4 M1689.1 553.3H1721.1L1752.0 470.5 M1727.3 577.7H1759.3L1806.3 523.3 M1810.0 625.0H1842.5L1886.4 555.3 M1845.7 651.1H1877.7L1912.7 581.0 M1885.6 671.3H1917.6L1962.0 608.0 M1925.5 689.3H1957.8L1986.6 621.6 M1961.5 713.2H1993.5L2007.5 629.0 M1755.3 1043.3H1787.3L1844.7 901.0 M1834.8 1099.2H1866.8L1910.0 1020.4 M1895.7 1145.3H1927.7L2060.2 1027.8 M1959.2 1185.0H1991.2L2034.3 1151.0 M2012.9 1217.0H2045.0L2157.5 1125.0 M2064.0 1249.5H2096.0L2195.7 1146.0 M1503.2 1419.6H1535.7L1584.4 1390.0 M1429.3 1261.5H1461.8L1494.5 1221.3" fill="none" stroke="#111" stroke-width="1.8"/>
<g font-family="Liberation Sans" font-size="22.7" fill="#111" stroke="#111" stroke-width="0.45">
<text transform="translate(977.2,1396.9) scale(0.62,1)" text-anchor="middle">1</text>
<text transform="translate(931.6,1375.5) scale(0.62,1)" text-anchor="middle">2</text>
<text transform="translate(891.0,1339.0) scale(0.62,1)" text-anchor="middle">3</text>
<text transform="translate(850.3,1302.8) scale(0.62,1)" text-anchor="middle">4</text>
<text transform="translate(842.8,1226.0) scale(0.62,1)" text-anchor="middle">5</text>
<text transform="translate(802.2,1198.5) scale(0.62,1)" text-anchor="middle">6</text>
<text transform="translate(765.0,1172.4) scale(0.62,1)" text-anchor="middle">7</text>
<text transform="translate(719.4,1152.2) scale(0.62,1)" text-anchor="middle">8</text>
<text transform="translate(680.0,1119.4) scale(0.62,1)" text-anchor="middle">9</text>
<text transform="translate(524.5,979.3) scale(0.62,1)" text-anchor="middle">10</text>
<text transform="translate(492.4,962.0) scale(0.62,1)" text-anchor="middle">11</text>
<text transform="translate(432.7,942.4) scale(0.62,1)" text-anchor="middle">12</text>
<text transform="translate(388.9,913.3) scale(0.62,1)" text-anchor="middle">13</text>
<text transform="translate(448.6,1039.9) scale(0.62,1)" text-anchor="middle">14</text>
<text transform="translate(392.4,1006.2) scale(0.62,1)" text-anchor="middle">15</text>
<text transform="translate(358.2,980.0) scale(0.62,1)" text-anchor="middle">16</text>
<text transform="translate(258.4,1029.7) scale(0.62,1)" text-anchor="middle">17</text>
<text transform="translate(133.2,937.4) scale(0.62,1)" text-anchor="middle">18</text>
<text transform="translate(171.2,903.0) scale(0.62,1)" text-anchor="middle">19</text>
<text transform="translate(222.8,842.0) scale(0.62,1)" text-anchor="middle">20</text>
<text transform="translate(395.4,685.7) scale(0.62,1)" text-anchor="middle">21</text>
<text transform="translate(454.2,659.8) scale(0.62,1)" text-anchor="middle">22</text>
<text transform="translate(497.4,642.6) scale(0.62,1)" text-anchor="middle">23</text>
<text transform="translate(513.9,774.9) scale(0.62,1)" text-anchor="middle">24</text>
<text transform="translate(553.4,790.0) scale(0.62,1)" text-anchor="middle">25</text>
<text transform="translate(655.7,841.7) scale(0.62,1)" text-anchor="middle">26</text>
<text transform="translate(699.2,873.7) scale(0.62,1)" text-anchor="middle">27</text>
<text transform="translate(744.0,903.2) scale(0.62,1)" text-anchor="middle">28</text>
<text transform="translate(785.8,929.6) scale(0.62,1)" text-anchor="middle">29</text>
<text transform="translate(863.5,891.7) scale(0.62,1)" text-anchor="middle">30</text>
<text transform="translate(945.1,852.3) scale(0.62,1)" text-anchor="middle">31</text>
<text transform="translate(981.7,829.3) scale(0.62,1)" text-anchor="middle">32</text>
<text transform="translate(1020.4,812.6) scale(0.62,1)" text-anchor="middle">33</text>
<text transform="translate(1059.2,787.3) scale(0.62,1)" text-anchor="middle">34</text>
<text transform="translate(1110.1,769.4) scale(0.62,1)" text-anchor="middle">35</text>
<text transform="translate(1208.5,711.9) scale(0.62,1)" text-anchor="middle">36</text>
<text transform="translate(866.9,689.7) scale(0.62,1)" text-anchor="middle">37</text>
<text transform="translate(908.4,667.3) scale(0.62,1)" text-anchor="middle">38</text>
<text transform="translate(950.8,646.4) scale(0.62,1)" text-anchor="middle">39</text>
<text transform="translate(988.2,628.0) scale(0.62,1)" text-anchor="middle">40</text>
<text transform="translate(1032.6,602.0) scale(0.62,1)" text-anchor="middle">41</text>
<text transform="translate(998.1,573.7) scale(0.62,1)" text-anchor="middle">42</text>
<text transform="translate(968.0,544.7) scale(0.62,1)" text-anchor="middle">43</text>
<text transform="translate(936.0,513.4) scale(0.62,1)" text-anchor="middle">44</text>
<text transform="translate(1136.2,403.0) scale(0.62,1)" text-anchor="middle">45</text>
<text transform="translate(1150.8,431.6) scale(0.62,1)" text-anchor="middle">46</text>
<text transform="translate(1165.8,457.5) scale(0.62,1)" text-anchor="middle">47</text>
<text transform="translate(1196.6,481.9) scale(0.62,1)" text-anchor="middle">48</text>
<text transform="translate(1218.5,508.5) scale(0.62,1)" text-anchor="middle">49</text>
<text transform="translate(1235.8,537.3) scale(0.62,1)" text-anchor="middle">50</text>
<text transform="translate(1254.2,562.0) scale(0.62,1)" text-anchor="middle">51</text>
<text transform="translate(1196.6,578.2) scale(0.62,1)" text-anchor="middle">52</text>
<text transform="translate(1218.5,607.0) scale(0.62,1)" text-anchor="middle">53</text>
<text transform="translate(1246.0,646.6) scale(0.62,1)" text-anchor="middle">54</text>
<text transform="translate(1365.8,809.9) scale(0.62,1)" text-anchor="middle">55</text>
<text transform="translate(1394.6,829.8) scale(0.62,1)" text-anchor="middle">56</text>
<text transform="translate(1425.1,852.7) scale(0.62,1)" text-anchor="middle">57</text>
<text transform="translate(1456.1,874.3) scale(0.62,1)" text-anchor="middle">58</text>
<text transform="translate(1489.1,897.0) scale(0.62,1)" text-anchor="middle">59</text>
<text transform="translate(1511.3,917.7) scale(0.62,1)" text-anchor="middle">60</text>
<text transform="translate(1542.1,937.4) scale(0.62,1)" text-anchor="middle">61</text>
<text transform="translate(1570.6,950.2) scale(0.62,1)" text-anchor="middle">62</text>
<text transform="translate(1603.2,962.0) scale(0.62,1)" text-anchor="middle">63</text>
<text transform="translate(1642.3,984.0) scale(0.62,1)" text-anchor="middle">64</text>
<text transform="translate(1684.8,1006.3) scale(0.62,1)" text-anchor="middle">65</text>
<text transform="translate(1491.4,457.7) scale(0.62,1)" text-anchor="middle">66</text>
<text transform="translate(1516.6,481.6) scale(0.62,1)" text-anchor="middle">67</text>
<text transform="translate(1542.5,508.2) scale(0.62,1)" text-anchor="middle">68</text>
<text transform="translate(1573.0,529.6) scale(0.62,1)" text-anchor="middle">69</text>
<text transform="translate(1602.2,548.8) scale(0.62,1)" text-anchor="middle">70</text>
<text transform="translate(1621.6,573.0) scale(0.62,1)" text-anchor="middle">71</text>
<text transform="translate(1645.3,597.8) scale(0.62,1)" text-anchor="middle">72</text>
<text transform="translate(1665.4,620.2) scale(0.62,1)" text-anchor="middle">73</text>
<text transform="translate(1697.0,636.7) scale(0.62,1)" text-anchor="middle">74</text>
<text transform="translate(1736.9,674.4) scale(0.62,1)" text-anchor="middle">75</text>
<text transform="translate(1629.8,495.1) scale(0.62,1)" text-anchor="middle">76</text>
<text transform="translate(1662.6,522.6) scale(0.62,1)" text-anchor="middle">77</text>
<text transform="translate(1705.9,549.3) scale(0.62,1)" text-anchor="middle">78</text>
<text transform="translate(1744.1,573.7) scale(0.62,1)" text-anchor="middle">79</text>
<text transform="translate(1827.0,621.0) scale(0.62,1)" text-anchor="middle">80</text>
<text transform="translate(1862.5,647.1) scale(0.62,1)" text-anchor="middle">81</text>
<text transform="translate(1902.4,667.3) scale(0.62,1)" text-anchor="middle">82</text>
<text transform="translate(1942.5,685.3) scale(0.62,1)" text-anchor="middle">83</text>
<text transform="translate(1978.3,709.2) scale(0.62,1)" text-anchor="middle">84</text>
<text transform="translate(1772.1,1039.3) scale(0.62,1)" text-anchor="middle">85</text>
<text transform="translate(1851.6,1095.2) scale(0.62,1)" text-anchor="middle">86</text>
<text transform="translate(1912.5,1141.3) scale(0.62,1)" text-anchor="middle">87</text>
<text transform="translate(1976.0,1181.0) scale(0.62,1)" text-anchor="middle">88</text>
<text transform="translate(2029.8,1213.0) scale(0.62,1)" text-anchor="middle">89</text>
<text transform="translate(2080.8,1245.5) scale(0.62,1)" text-anchor="middle">90</text>
<text transform="translate(1520.2,1415.6) scale(0.62,1)" text-anchor="middle">91</text>
<text transform="translate(1446.3,1257.5) scale(0.62,1)" text-anchor="middle">92</text>
</g>
</svg>
</body></html>
